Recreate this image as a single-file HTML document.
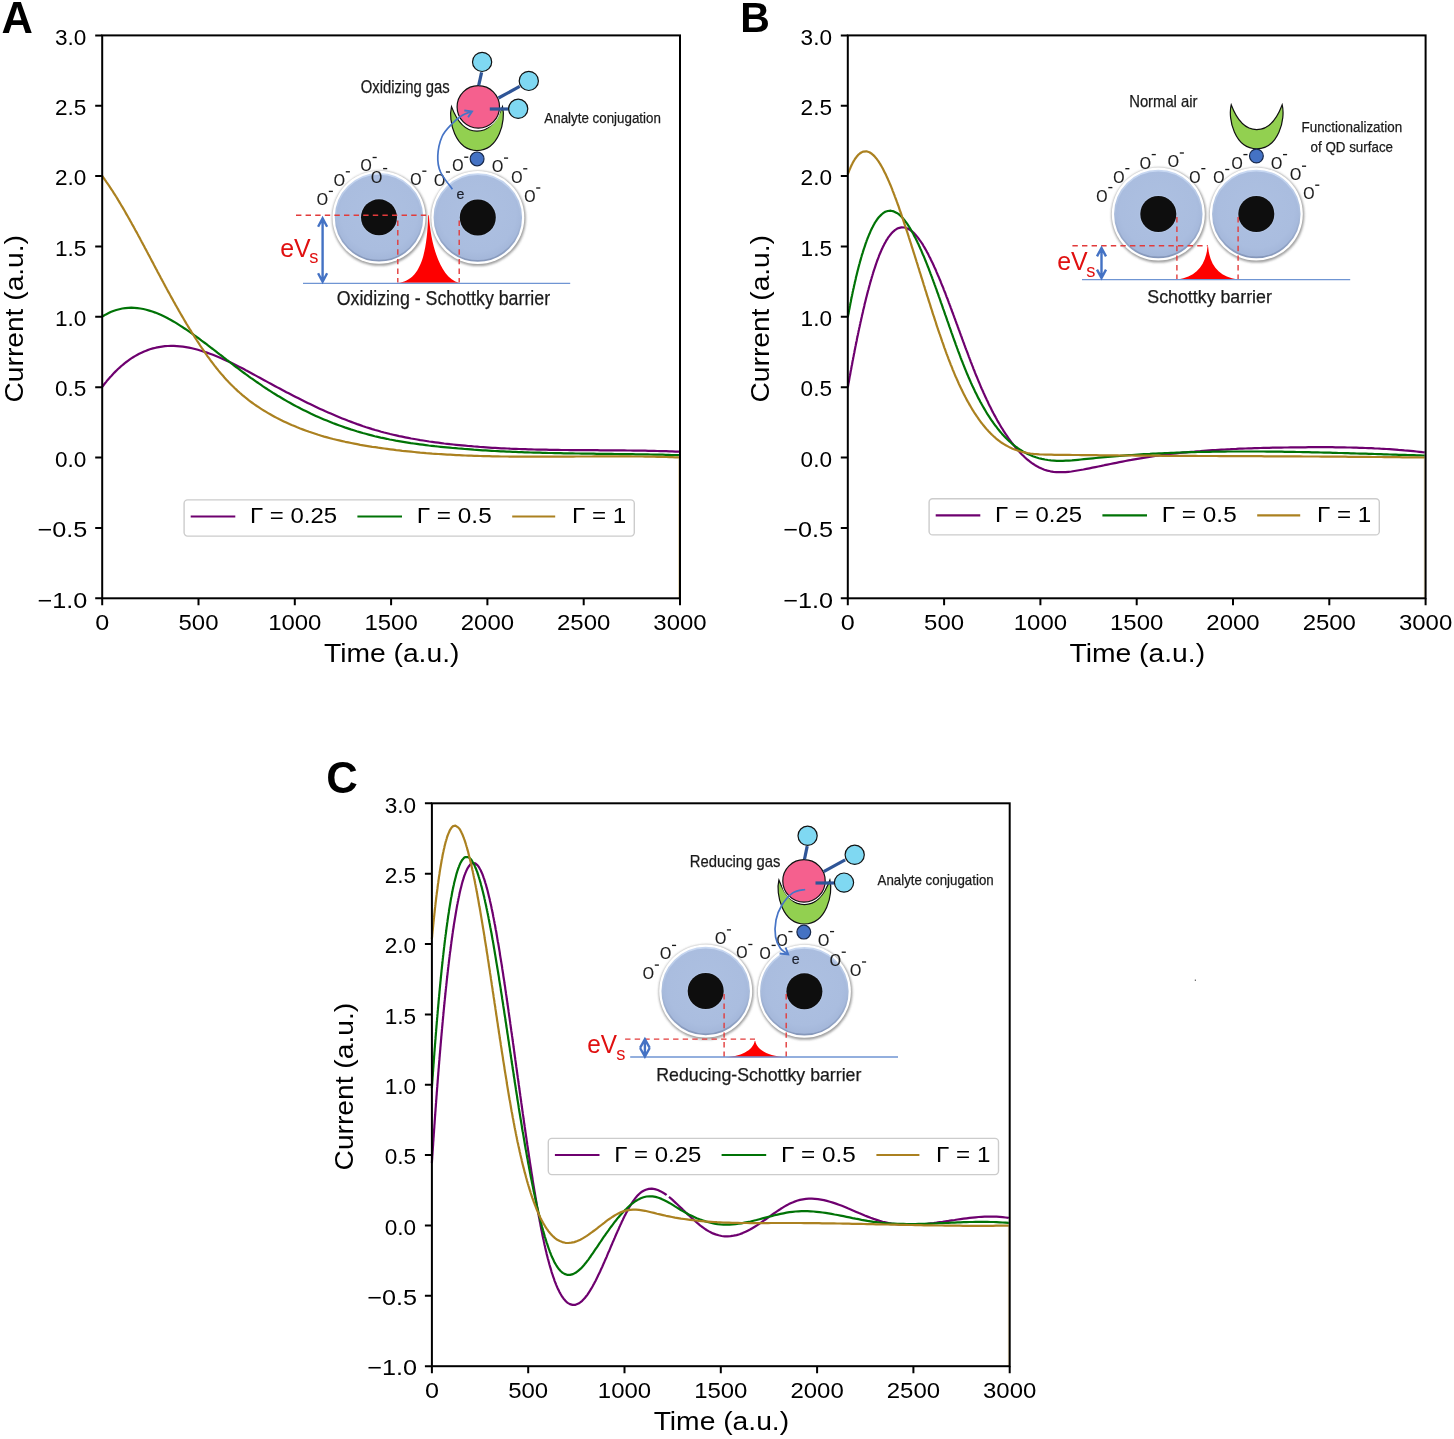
<!DOCTYPE html>
<html><head><meta charset="utf-8"><title>Current vs time</title><style>html,body{margin:0;padding:0;background:#fff;overflow:hidden}svg{display:block;will-change:transform}</style></head><body>
<svg width="1454" height="1439" viewBox="0 0 1454 1439" font-family='"Liberation Sans", sans-serif'>
<defs>
<filter id="sh" x="-20%" y="-20%" width="140%" height="140%"><feGaussianBlur stdDeviation="1.3"/></filter>
<radialGradient id="bg" cx="50%" cy="45%" r="55%"><stop offset="0" stop-color="#adc0e1"/><stop offset="0.8" stop-color="#aabddf"/><stop offset="1" stop-color="#a3b6d9"/></radialGradient>
<linearGradient id="rim" x1="0" y1="0" x2="0" y2="1"><stop offset="0" stop-color="#c8d8f2"/><stop offset="0.5" stop-color="#a9bcdc"/><stop offset="1" stop-color="#8597ba"/></linearGradient>
</defs>
<rect width="1454" height="1439" fill="#fff"/>
<circle cx="379.5" cy="218.3" r="47.5" fill="#606060" fill-opacity="0.6" filter="url(#sh)"/>
<circle cx="379" cy="217.3" r="46.5" fill="#fff"/>
<circle cx="379" cy="217.3" r="43.4" fill="url(#bg)" stroke="url(#rim)" stroke-width="1.7"/>
<circle cx="379" cy="217.3" r="19" fill="#b9cbe9" fill-opacity="0.6"/>
<circle cx="379" cy="217.3" r="18" fill="#0e0e0e"/>
<circle cx="478.3" cy="218.5" r="47.5" fill="#606060" fill-opacity="0.6" filter="url(#sh)"/>
<circle cx="477.8" cy="217.5" r="46.5" fill="#fff"/>
<circle cx="477.8" cy="217.5" r="43.4" fill="url(#bg)" stroke="url(#rim)" stroke-width="1.7"/>
<circle cx="477.8" cy="217.5" r="19" fill="#b9cbe9" fill-opacity="0.6"/>
<circle cx="477.8" cy="217.5" r="18" fill="#0e0e0e"/>
<path d="M296 215.3 H428.3 M397.8 220.5 V282.6 M459.2 220.5 V282.6" stroke="#e23b3b" stroke-width="1.4" stroke-dasharray="5.4 4.2" fill="none"/>
<path d="M397.8 282.8 C420 281 427 255 428.2 215.3 L428.8 215.3 C431 245 440 278 459.2 282.8 Z" fill="#fe0000"/>
<path d="M303 283.3 H570.2" stroke="#6f95d3" stroke-width="1.3"/>
<path d="M322.6 218.8 V281.2 M318.1 226.7 L322.6 218.3 L327.1 226.7 M318.1 273.3 L322.6 281.7 L327.1 273.3" stroke="#4472c4" stroke-width="2.4" fill="none" stroke-linejoin="miter"/>
<text x="280.2" y="256.8" font-size="25.5" fill="#e01010" textLength="30.5" lengthAdjust="spacingAndGlyphs">eV</text>
<text x="309.2" y="263.4" font-size="18.3" fill="#e01010">s</text>
<text x="316.8" y="205.3" font-size="16" fill="#1a1a1a" stroke="#1a1a1a" stroke-width="0.2" textLength="11.2" lengthAdjust="spacingAndGlyphs">O</text>
<path d="M328.8 191.4 h4.1" stroke="#1a1a1a" stroke-width="1.35"/>
<text x="333.8" y="185.7" font-size="16" fill="#1a1a1a" stroke="#1a1a1a" stroke-width="0.2" textLength="11.2" lengthAdjust="spacingAndGlyphs">O</text>
<path d="M345.8 171.8 h4.1" stroke="#1a1a1a" stroke-width="1.35"/>
<text x="360.6" y="171.4" font-size="16" fill="#1a1a1a" stroke="#1a1a1a" stroke-width="0.2" textLength="11.2" lengthAdjust="spacingAndGlyphs">O</text>
<path d="M372.6 157.5 h4.1" stroke="#1a1a1a" stroke-width="1.35"/>
<text x="371.1" y="182.5" font-size="16" fill="#1a1a1a" stroke="#1a1a1a" stroke-width="0.2" textLength="11.2" lengthAdjust="spacingAndGlyphs">O</text>
<path d="M383.1 168.6 h4.1" stroke="#1a1a1a" stroke-width="1.35"/>
<text x="410.3" y="185.1" font-size="16" fill="#1a1a1a" stroke="#1a1a1a" stroke-width="0.2" textLength="11.2" lengthAdjust="spacingAndGlyphs">O</text>
<path d="M422.3 171.2 h4.1" stroke="#1a1a1a" stroke-width="1.35"/>
<text x="433.9" y="185.9" font-size="16" fill="#1a1a1a" stroke="#1a1a1a" stroke-width="0.2" textLength="11.2" lengthAdjust="spacingAndGlyphs">O</text>
<path d="M445.9 172 h4.1" stroke="#1a1a1a" stroke-width="1.35"/>
<text x="452.2" y="171.1" font-size="16" fill="#1a1a1a" stroke="#1a1a1a" stroke-width="0.2" textLength="11.2" lengthAdjust="spacingAndGlyphs">O</text>
<path d="M464.2 157.2 h4.1" stroke="#1a1a1a" stroke-width="1.35"/>
<text x="492" y="172" font-size="16" fill="#1a1a1a" stroke="#1a1a1a" stroke-width="0.2" textLength="11.2" lengthAdjust="spacingAndGlyphs">O</text>
<path d="M504 158.1 h4.1" stroke="#1a1a1a" stroke-width="1.35"/>
<text x="511.2" y="182.7" font-size="16" fill="#1a1a1a" stroke="#1a1a1a" stroke-width="0.2" textLength="11.2" lengthAdjust="spacingAndGlyphs">O</text>
<path d="M523.2 168.8 h4.1" stroke="#1a1a1a" stroke-width="1.35"/>
<text x="524.2" y="201.9" font-size="16" fill="#1a1a1a" stroke="#1a1a1a" stroke-width="0.2" textLength="11.2" lengthAdjust="spacingAndGlyphs">O</text>
<path d="M536.2 188 h4.1" stroke="#1a1a1a" stroke-width="1.35"/>
<path d="M451.5 106.6 C448 120.6 455 150.6 477 150.6 C499 150.6 506 120.6 502.5 106.6 C496.5 122.6 488 131.2 477 131.2 C466 131.2 457.5 122.6 451.5 106.6 Z" fill="#92d050" stroke="#111" stroke-width="1.2" stroke-linejoin="miter"/>
<circle cx="478.3" cy="106.9" r="22.6" fill="#fff"/>
<circle cx="478.3" cy="106.9" r="21.2" fill="#f5608e" stroke="#111" stroke-width="1.2"/>
<path d="M481.6 72.4 L478.7 85.4" stroke="#2f5597" stroke-width="3.2"/>
<path d="M498.5 98 L519.7 86.4" stroke="#2f5597" stroke-width="3.2"/>
<path d="M489.8 109 L508.6 109" stroke="#2f5597" stroke-width="3.2"/>
<circle cx="482.1" cy="61.9" r="9.6" fill="#7fd8f2" stroke="#111" stroke-width="1.2"/>
<circle cx="528.8" cy="80.9" r="9.6" fill="#7fd8f2" stroke="#111" stroke-width="1.2"/>
<circle cx="518.2" cy="108.8" r="9.6" fill="#7fd8f2" stroke="#111" stroke-width="1.2"/>
<circle cx="477.1" cy="158.9" r="6.9" fill="#4472c4" stroke="#17284a" stroke-width="1.2"/>
<path d="M452.4 189.2 C450.42 186.33 442.93 177.58 440.5 172 C438.07 166.42 437.53 161.62 437.8 155.7 C438.07 149.78 439.77 141.78 442.1 136.5 C444.43 131.22 448.42 127.53 451.8 124 C455.18 120.47 459.12 117.38 462.4 115.3 C465.68 113.22 469.98 112.13 471.5 111.5" stroke="#4674c6" stroke-width="1.7" fill="none"/>
<path d="M464.3 110.5 L472 111.4 L468.1 117.2" stroke="#4674c6" stroke-width="1.9" fill="none"/>
<text x="456.6" y="199.3" font-size="14.2" fill="#1b1f2a" stroke="#1b1f2a" stroke-width="0.2">e</text>
<text x="336.7" y="304.5" font-size="19.8" fill="#1a1a1a" textLength="213.4" lengthAdjust="spacingAndGlyphs" stroke="#1a1a1a" stroke-width="0.25">Oxidizing - Schottky barrier</text>
<text x="360.7" y="93.2" font-size="17.5" fill="#1a1a1a" textLength="89.1" lengthAdjust="spacingAndGlyphs" stroke="#1a1a1a" stroke-width="0.25">Oxidizing gas</text>
<text x="544.3" y="123.4" font-size="15.2" fill="#1a1a1a" textLength="116.6" lengthAdjust="spacingAndGlyphs" stroke="#1a1a1a" stroke-width="0.25">Analyte conjugation</text>
<g>
<path d="M102.2 386.85 L103.1 385.7 104.0 384.5 105.0 383.3 106.0 382.1 106.9 380.9 107.9 379.7 109.0 378.5 110.0 377.3 111.1 376.2 112.2 375.0 113.3 373.8 114.4 372.6 115.6 371.4 116.8 370.2 118.0 369.0 119.3 367.9 120.6 366.7 122.0 365.5 123.4 364.3 124.8 363.1 126.3 362.0 127.9 360.8 129.5 359.6 131.3 358.4 133.1 357.3 135.0 356.1 137.0 355.0 139.2 353.8 141.5 352.7 144.1 351.5 146.9 350.4 149.9 349.3 152.9 348.4 155.9 347.7 158.9 347.1 161.9 346.6 164.9 346.2 167.9 346.0 170.9 345.9 173.9 345.9 176.9 346.1 179.9 346.3 182.9 346.7 185.9 347.1 188.9 347.6 191.9 348.3 194.9 349.0 197.9 349.8 200.9 350.7 203.9 351.6 206.9 352.6 209.9 353.7 212.9 354.8 215.9 356.0 218.9 357.2 221.7 358.4 224.4 359.7 227.1 360.9 229.7 362.1 232.2 363.3 234.7 364.5 237.1 365.7 239.5 366.9 241.8 368.1 244.2 369.3 246.4 370.6 248.7 371.8 251.0 373.0 253.2 374.2 255.4 375.4 257.6 376.6 259.8 377.8 262.0 379.0 264.2 380.2 266.4 381.4 268.6 382.6 270.8 383.8 273.0 385.0 275.2 386.2 277.4 387.4 279.7 388.6 281.9 389.8 284.2 391.0 286.4 392.2 288.7 393.3 291.0 394.5 293.3 395.7 295.7 396.9 298.0 398.1 300.4 399.3 302.8 400.5 305.2 401.7 307.6 402.9 310.1 404.1 312.6 405.3 315.1 406.5 317.6 407.7 320.2 408.9 322.8 410.1 325.4 411.3 328.1 412.4 330.8 413.6 333.6 414.8 336.4 416.0 339.3 417.2 342.2 418.4 345.2 419.6 348.2 420.8 351.2 421.9 354.2 423.0 357.2 424.1 360.2 425.1 363.2 426.2 366.2 427.2 369.2 428.1 372.2 429.1 375.2 430.0 378.2 430.8 381.2 431.7 384.2 432.5 387.2 433.2 390.2 434.0 393.2 434.7 396.2 435.4 399.2 436.1 402.2 436.7 405.2 437.3 408.2 437.9 411.2 438.5 414.2 439.0 417.2 439.5 420.2 440.1 423.2 440.5 426.2 441.0 429.2 441.5 432.2 441.9 435.2 442.3 438.2 442.7 441.2 443.1 444.2 443.5 447.2 443.8 450.2 444.2 453.2 444.5 456.2 444.8 459.2 445.1 462.2 445.4 465.2 445.7 468.2 446.0 471.2 446.2 474.2 446.5 477.2 446.7 480.2 447.0 483.2 447.2 486.2 447.4 489.2 447.6 492.2 447.8 495.2 447.9 498.2 448.1 501.2 448.3 504.2 448.4 507.2 448.5 510.2 448.7 513.2 448.8 516.2 448.9 519.2 449.0 522.2 449.1 525.2 449.2 528.2 449.3 531.2 449.4 534.2 449.5 537.2 449.6 540.2 449.6 543.2 449.7 546.2 449.7 549.2 449.8 552.2 449.8 555.2 449.9 558.2 449.9 561.2 450.0 564.2 450.0 567.2 450.0 570.2 450.1 573.2 450.1 576.2 450.1 579.2 450.1 582.2 450.2 585.2 450.2 588.2 450.2 591.2 450.2 594.2 450.2 597.2 450.2 600.2 450.3 603.2 450.3 606.2 450.3 609.2 450.3 612.2 450.3 615.2 450.4 618.2 450.4 621.2 450.4 624.2 450.4 627.2 450.5 630.2 450.5 633.2 450.6 636.2 450.6 639.2 450.6 642.2 450.7 645.2 450.7 648.2 450.8 651.2 450.9 654.2 450.9 657.2 451.0 660.2 451.1 663.2 451.2 666.2 451.2 669.2 451.3 672.2 451.4 675.2 451.6 678.2 451.7 679.0 451.7" fill="none" stroke="#6e006f" stroke-width="2.2" stroke-linejoin="round" stroke-linecap="butt" />
<path d="M102.2 316.7 L104.0 315.5 106.0 314.4 108.2 313.3 110.6 312.1 113.3 311.0 116.3 310.0 119.3 309.2 122.3 308.5 125.3 308.1 128.3 307.8 131.3 307.7 134.3 307.8 137.3 308.1 140.3 308.5 143.3 309.0 146.3 309.7 149.3 310.6 152.3 311.5 155.3 312.6 158.3 313.8 161.2 315.1 163.8 316.3 166.3 317.5 168.6 318.8 170.9 320.0 173.0 321.2 175.1 322.4 177.1 323.7 179.0 324.9 180.9 326.1 182.8 327.3 184.6 328.5 186.4 329.7 188.2 330.9 190.0 332.1 191.7 333.3 193.4 334.5 195.1 335.8 196.7 337.0 198.4 338.2 200.0 339.4 201.6 340.6 203.3 341.8 204.9 343.0 206.5 344.2 208.0 345.4 209.6 346.6 211.2 347.8 212.8 349.0 214.3 350.2 215.9 351.4 217.4 352.6 219.0 353.8 220.5 355.0 222.1 356.2 223.6 357.4 225.2 358.6 226.7 359.8 228.3 361.0 229.8 362.2 231.4 363.4 233.0 364.6 234.5 365.8 236.1 367.0 237.7 368.2 239.3 369.4 240.9 370.6 242.5 371.8 244.1 373.0 245.7 374.2 247.4 375.4 249.0 376.6 250.7 377.8 252.4 378.9 254.1 380.1 255.8 381.3 257.5 382.5 259.2 383.7 261.0 384.9 262.7 386.1 264.5 387.3 266.3 388.5 268.1 389.7 270.0 390.9 271.9 392.1 273.7 393.3 275.7 394.5 277.6 395.7 279.6 396.8 281.6 398.0 283.6 399.2 285.6 400.4 287.7 401.6 289.9 402.8 292.0 404.0 294.2 405.2 296.4 406.4 298.7 407.6 301.0 408.8 303.3 409.9 305.7 411.1 308.2 412.3 310.6 413.5 313.2 414.7 315.8 415.9 318.4 417.1 321.1 418.2 323.9 419.4 326.8 420.6 329.7 421.8 332.7 423.0 335.7 424.1 338.7 425.2 341.7 426.3 344.7 427.4 347.7 428.4 350.7 429.4 353.7 430.3 356.7 431.3 359.7 432.1 362.7 433.0 365.7 433.8 368.7 434.6 371.7 435.4 374.7 436.2 377.7 436.9 380.7 437.6 383.7 438.2 386.7 438.8 389.7 439.5 392.7 440.0 395.7 440.6 398.7 441.1 401.7 441.6 404.7 442.1 407.7 442.6 410.7 443.1 413.7 443.5 416.7 443.9 419.7 444.3 422.7 444.7 425.7 445.1 428.7 445.5 431.7 445.8 434.7 446.2 437.7 446.5 440.7 446.8 443.7 447.1 446.7 447.4 449.7 447.7 452.7 448.0 455.7 448.2 458.7 448.5 461.7 448.7 464.7 449.0 467.7 449.2 470.7 449.4 473.7 449.7 476.7 449.9 479.7 450.1 482.7 450.3 485.7 450.4 488.7 450.6 491.7 450.8 494.7 451.0 497.7 451.1 500.7 451.3 503.7 451.4 506.7 451.6 509.7 451.7 512.7 451.8 515.7 451.9 518.7 452.1 521.7 452.2 524.7 452.3 527.7 452.4 530.7 452.5 533.7 452.6 536.7 452.6 539.7 452.7 542.7 452.8 545.7 452.9 548.7 453.0 551.7 453.0 554.7 453.1 557.7 453.2 560.7 453.2 563.7 453.3 566.7 453.3 569.7 453.4 572.7 453.4 575.7 453.5 578.7 453.5 581.7 453.6 584.7 453.6 587.7 453.6 590.7 453.7 593.7 453.7 596.7 453.8 599.7 453.8 602.7 453.8 605.7 453.9 608.7 453.9 611.7 453.9 614.7 454.0 617.7 454.0 620.7 454.1 623.7 454.1 626.7 454.1 629.7 454.2 632.7 454.2 635.7 454.3 638.7 454.3 641.7 454.3 644.7 454.4 647.7 454.4 650.7 454.5 653.7 454.6 656.7 454.6 659.7 454.7 662.7 454.7 665.7 454.8 668.7 454.9 671.7 455.0 674.7 455.0 677.7 455.1 679.0 455.2" fill="none" stroke="#007306" stroke-width="2.2" stroke-linejoin="round" stroke-linecap="butt" />
<path d="M102.2 176.03 L103.1 177.2 104.0 178.4 104.8 179.7 105.7 180.9 106.5 182.1 107.4 183.3 108.2 184.5 109.0 185.7 109.8 186.9 110.6 188.1 111.4 189.3 112.2 190.5 113.0 191.7 113.7 192.9 114.5 194.1 115.3 195.3 116.0 196.5 116.8 197.7 117.5 198.9 118.2 200.1 119.0 201.4 119.7 202.6 120.4 203.8 121.1 205.0 121.8 206.2 122.6 207.4 123.3 208.6 124.0 209.8 124.7 211.0 125.4 212.2 126.0 213.4 126.7 214.6 127.4 215.8 128.1 217.0 128.8 218.2 129.5 219.4 130.1 220.6 130.8 221.8 131.5 223.0 132.1 224.2 132.8 225.4 133.5 226.6 134.1 227.8 134.8 229.0 135.4 230.2 136.1 231.4 136.8 232.6 137.4 233.8 138.1 235.0 138.7 236.2 139.4 237.4 140.0 238.6 140.6 239.8 141.3 241.0 141.9 242.2 142.6 243.4 143.2 244.6 143.9 245.8 144.5 247.0 145.1 248.2 145.8 249.4 146.4 250.6 147.0 251.8 147.7 253.0 148.3 254.2 149.0 255.4 149.6 256.6 150.2 257.8 150.9 259.0 151.5 260.2 152.1 261.4 152.8 262.6 153.4 263.8 154.0 265.0 154.7 266.2 155.3 267.4 155.9 268.6 156.6 269.8 157.2 271.0 157.8 272.2 158.5 273.4 159.1 274.6 159.8 275.8 160.4 277.0 161.0 278.2 161.7 279.4 162.3 280.6 163.0 281.8 163.6 283.0 164.3 284.2 164.9 285.4 165.5 286.6 166.2 287.8 166.8 289.0 167.5 290.2 168.1 291.4 168.8 292.6 169.5 293.8 170.1 295.0 170.8 296.2 171.4 297.4 172.1 298.6 172.8 299.8 173.4 301.0 174.1 302.2 174.8 303.4 175.4 304.6 176.1 305.8 176.8 307.0 177.5 308.2 178.2 309.4 178.8 310.6 179.5 311.8 180.2 313.0 180.9 314.2 181.6 315.4 182.3 316.6 183.0 317.8 183.7 319.0 184.4 320.2 185.1 321.4 185.8 322.6 186.5 323.8 187.3 325.0 188.0 326.2 188.7 327.4 189.4 328.6 190.2 329.7 190.9 330.9 191.6 332.1 192.4 333.3 193.1 334.5 193.9 335.7 194.6 336.9 195.4 338.1 196.2 339.3 196.9 340.5 197.7 341.7 198.5 342.9 199.3 344.1 200.0 345.3 200.8 346.5 201.6 347.7 202.5 348.9 203.3 350.1 204.1 351.3 204.9 352.5 205.7 353.7 206.6 354.9 207.4 356.1 208.3 357.3 209.2 358.4 210.0 359.6 210.9 360.8 211.8 362.0 212.7 363.2 213.6 364.4 214.5 365.6 215.5 366.8 216.4 368.0 217.4 369.2 218.3 370.4 219.3 371.6 220.3 372.8 221.3 373.9 222.3 375.1 223.4 376.3 224.4 377.5 225.5 378.7 226.6 379.9 227.7 381.1 228.8 382.3 230.0 383.5 231.2 384.7 232.3 385.8 233.6 387.0 234.8 388.2 236.1 389.4 237.3 390.6 238.7 391.8 240.0 393.0 241.4 394.2 242.7 395.4 244.2 396.5 245.6 397.7 247.1 398.9 248.6 400.1 250.2 401.3 251.8 402.5 253.4 403.7 255.1 404.8 256.8 406.0 258.6 407.2 260.4 408.4 262.3 409.6 264.2 410.8 266.1 411.9 268.1 413.1 270.2 414.3 272.3 415.5 274.5 416.7 276.7 417.9 279.0 419.1 281.4 420.2 283.8 421.4 286.3 422.6 288.9 423.8 291.6 425.0 294.4 426.1 297.2 427.3 300.2 428.5 303.2 429.6 306.2 430.7 309.2 431.8 312.2 432.8 315.2 433.8 318.2 434.8 321.2 435.7 324.2 436.6 327.2 437.4 330.2 438.2 333.2 439.0 336.2 439.7 339.2 440.4 342.2 441.1 345.2 441.8 348.2 442.4 351.2 443.0 354.2 443.6 357.2 444.2 360.2 444.8 363.2 445.3 366.2 445.8 369.2 446.3 372.2 446.8 375.2 447.2 378.2 447.7 381.2 448.1 384.2 448.5 387.2 448.9 390.2 449.3 393.2 449.7 396.2 450.1 399.2 450.4 402.2 450.8 405.2 451.1 408.2 451.4 411.2 451.7 414.2 452.0 417.2 452.3 420.2 452.6 423.2 452.8 426.2 453.1 429.2 453.3 432.2 453.6 435.2 453.8 438.2 454.0 441.2 454.2 444.2 454.4 447.2 454.6 450.2 454.7 453.2 454.9 456.2 455.1 459.2 455.2 462.2 455.3 465.2 455.5 468.2 455.6 471.2 455.7 474.2 455.8 477.2 455.9 480.2 456.0 483.2 456.1 486.2 456.2 489.2 456.2 492.2 456.3 495.2 456.4 498.2 456.4 501.2 456.5 504.2 456.5 507.2 456.5 510.2 456.6 513.2 456.6 516.2 456.6 519.2 456.7 522.2 456.7 525.2 456.7 528.2 456.7 531.2 456.7 534.2 456.7 537.2 456.7 540.2 456.7 543.2 456.7 546.2 456.7 549.2 456.7 552.2 456.7 555.2 456.7 558.2 456.6 561.2 456.6 564.2 456.6 567.2 456.6 570.2 456.6 573.2 456.6 576.2 456.5 579.2 456.5 582.2 456.5 585.2 456.5 588.2 456.5 591.2 456.5 594.2 456.4 597.2 456.4 600.2 456.4 603.2 456.4 606.2 456.4 609.2 456.4 612.2 456.4 615.2 456.4 618.2 456.4 621.2 456.4 624.2 456.4 627.2 456.4 630.2 456.4 633.2 456.5 636.2 456.5 639.2 456.5 642.2 456.5 645.2 456.6 648.2 456.6 651.2 456.7 654.2 456.7 657.2 456.8 660.2 456.8 663.2 456.9 666.2 457.0 669.2 457.1 672.2 457.2 675.2 457.3 678.2 457.4 679.0 457.4" fill="none" stroke="#ab8120" stroke-width="2.2" stroke-linejoin="round" stroke-linecap="butt" />
</g>
<path d="M678.7 458.3 V598.3" stroke="#ab8120" stroke-width="1" stroke-opacity="0.35"/>
<rect x="184.1" y="499.9" width="450.2" height="36.2" rx="3.5" fill="#fff" fill-opacity="0.8" stroke="#cccccc" stroke-width="1.4"/>
<path d="M190.7 516.5 H235.3" stroke="#6e006f" stroke-width="2.2"/>
<path d="M357.4 516.5 H402" stroke="#007306" stroke-width="2.2"/>
<path d="M512.2 516.5 H555.2" stroke="#ab8120" stroke-width="2.2"/>
<text x="250" y="523.1" font-size="21.2" textLength="87.1" lengthAdjust="spacingAndGlyphs">Γ = 0.25</text>
<text x="416.7" y="523.1" font-size="21.2" textLength="75" lengthAdjust="spacingAndGlyphs">Γ = 0.5</text>
<text x="571.9" y="523.1" font-size="21.2" textLength="54.3" lengthAdjust="spacingAndGlyphs">Γ = 1</text>
<rect x="102.2" y="35.4" width="577.8" height="562.9" fill="none" stroke="#000" stroke-width="2"/>
<path d="M102.2 598.3 V605.3 M198.5 598.3 V605.3 M294.8 598.3 V605.3 M391.1 598.3 V605.3 M487.4 598.3 V605.3 M583.7 598.3 V605.3 M680 598.3 V605.3 M95.2 35.4 H102.2 M95.2 105.76 H102.2 M95.2 176.12 H102.2 M95.2 246.49 H102.2 M95.2 316.85 H102.2 M95.2 387.21 H102.2 M95.2 457.57 H102.2 M95.2 527.94 H102.2 M95.2 598.3 H102.2" stroke="#000" stroke-width="2" fill="none"/>
<text x="86.4" y="44.6" font-size="22.3" text-anchor="end" textLength="31.4" lengthAdjust="spacingAndGlyphs">3.0</text>
<text x="86.4" y="114.96" font-size="22.3" text-anchor="end" textLength="31.4" lengthAdjust="spacingAndGlyphs">2.5</text>
<text x="86.4" y="185.32" font-size="22.3" text-anchor="end" textLength="31.4" lengthAdjust="spacingAndGlyphs">2.0</text>
<text x="86.4" y="255.69" font-size="22.3" text-anchor="end" textLength="31.4" lengthAdjust="spacingAndGlyphs">1.5</text>
<text x="86.4" y="326.05" font-size="22.3" text-anchor="end" textLength="31.4" lengthAdjust="spacingAndGlyphs">1.0</text>
<text x="86.4" y="396.41" font-size="22.3" text-anchor="end" textLength="31.4" lengthAdjust="spacingAndGlyphs">0.5</text>
<text x="86.4" y="466.77" font-size="22.3" text-anchor="end" textLength="31.4" lengthAdjust="spacingAndGlyphs">0.0</text>
<text x="87.4" y="537.14" font-size="22.3" text-anchor="end" textLength="49.8" lengthAdjust="spacingAndGlyphs">−0.5</text>
<text x="87.4" y="607.5" font-size="22.3" text-anchor="end" textLength="49.8" lengthAdjust="spacingAndGlyphs">−1.0</text>
<text x="102.2" y="629.8" font-size="22.3" text-anchor="middle" textLength="14" lengthAdjust="spacingAndGlyphs">0</text>
<text x="198.5" y="629.8" font-size="22.3" text-anchor="middle" textLength="40" lengthAdjust="spacingAndGlyphs">500</text>
<text x="294.8" y="629.8" font-size="22.3" text-anchor="middle" textLength="53.3" lengthAdjust="spacingAndGlyphs">1000</text>
<text x="391.1" y="629.8" font-size="22.3" text-anchor="middle" textLength="53.3" lengthAdjust="spacingAndGlyphs">1500</text>
<text x="487.4" y="629.8" font-size="22.3" text-anchor="middle" textLength="53.3" lengthAdjust="spacingAndGlyphs">2000</text>
<text x="583.7" y="629.8" font-size="22.3" text-anchor="middle" textLength="53.3" lengthAdjust="spacingAndGlyphs">2500</text>
<text x="680" y="629.8" font-size="22.3" text-anchor="middle" textLength="53.3" lengthAdjust="spacingAndGlyphs">3000</text>
<text x="391.7" y="662.2" font-size="26.6" text-anchor="middle" textLength="135.5" lengthAdjust="spacingAndGlyphs">Time (a.u.)</text>
<text x="0" y="0" font-size="26" text-anchor="middle" textLength="167.5" lengthAdjust="spacingAndGlyphs" transform="translate(23 318.75) rotate(-90)">Current (a.u.)</text>
<circle cx="1158.8" cy="215" r="47.5" fill="#606060" fill-opacity="0.6" filter="url(#sh)"/>
<circle cx="1158.3" cy="214" r="46.5" fill="#fff"/>
<circle cx="1158.3" cy="214" r="43.4" fill="url(#bg)" stroke="url(#rim)" stroke-width="1.7"/>
<circle cx="1158.3" cy="214" r="19" fill="#b9cbe9" fill-opacity="0.6"/>
<circle cx="1158.3" cy="214" r="18" fill="#0e0e0e"/>
<circle cx="1256.8" cy="215" r="47.5" fill="#606060" fill-opacity="0.6" filter="url(#sh)"/>
<circle cx="1256.3" cy="214" r="46.5" fill="#fff"/>
<circle cx="1256.3" cy="214" r="43.4" fill="url(#bg)" stroke="url(#rim)" stroke-width="1.7"/>
<circle cx="1256.3" cy="214" r="19" fill="#b9cbe9" fill-opacity="0.6"/>
<circle cx="1256.3" cy="214" r="18" fill="#0e0e0e"/>
<path d="M1072.4 245.8 H1207.8 M1176.9 217 V279.3 M1238.1 217 V279.3" stroke="#e23b3b" stroke-width="1.4" stroke-dasharray="5.4 4.2" fill="none"/>
<path d="M1177.9 279.5 C1196 277 1206 265 1207.5 246.5 L1208.1 246.5 C1209.5 265 1219 277 1237.6 279.5 Z" fill="#fe0000"/>
<path d="M1082 279.7 H1350.2" stroke="#6f95d3" stroke-width="1.3"/>
<path d="M1101.5 248.5 V277.5 M1097 256.4 L1101.5 248 L1106 256.4 M1097 269.6 L1101.5 278 L1106 269.6" stroke="#4472c4" stroke-width="2.4" fill="none" stroke-linejoin="miter"/>
<text x="1057.2" y="269.9" font-size="25.5" fill="#e01010" textLength="30.5" lengthAdjust="spacingAndGlyphs">eV</text>
<text x="1086.3" y="276.5" font-size="18.3" fill="#e01010">s</text>
<text x="1096.3" y="201.5" font-size="16" fill="#1a1a1a" stroke="#1a1a1a" stroke-width="0.2" textLength="11.2" lengthAdjust="spacingAndGlyphs">O</text>
<path d="M1108.3 187.6 h4.1" stroke="#1a1a1a" stroke-width="1.35"/>
<text x="1113.3" y="182.6" font-size="16" fill="#1a1a1a" stroke="#1a1a1a" stroke-width="0.2" textLength="11.2" lengthAdjust="spacingAndGlyphs">O</text>
<path d="M1125.3 168.7 h4.1" stroke="#1a1a1a" stroke-width="1.35"/>
<text x="1139.7" y="168.5" font-size="16" fill="#1a1a1a" stroke="#1a1a1a" stroke-width="0.2" textLength="11.2" lengthAdjust="spacingAndGlyphs">O</text>
<path d="M1151.7 154.6 h4.1" stroke="#1a1a1a" stroke-width="1.35"/>
<text x="1167.8" y="166.9" font-size="16" fill="#1a1a1a" stroke="#1a1a1a" stroke-width="0.2" textLength="11.2" lengthAdjust="spacingAndGlyphs">O</text>
<path d="M1179.8 153 h4.1" stroke="#1a1a1a" stroke-width="1.35"/>
<text x="1189.3" y="182.6" font-size="16" fill="#1a1a1a" stroke="#1a1a1a" stroke-width="0.2" textLength="11.2" lengthAdjust="spacingAndGlyphs">O</text>
<path d="M1201.3 168.7 h4.1" stroke="#1a1a1a" stroke-width="1.35"/>
<text x="1213.2" y="183.4" font-size="16" fill="#1a1a1a" stroke="#1a1a1a" stroke-width="0.2" textLength="11.2" lengthAdjust="spacingAndGlyphs">O</text>
<path d="M1225.2 169.5 h4.1" stroke="#1a1a1a" stroke-width="1.35"/>
<text x="1231.4" y="168.5" font-size="16" fill="#1a1a1a" stroke="#1a1a1a" stroke-width="0.2" textLength="11.2" lengthAdjust="spacingAndGlyphs">O</text>
<path d="M1243.4 154.6 h4.1" stroke="#1a1a1a" stroke-width="1.35"/>
<text x="1271" y="168.5" font-size="16" fill="#1a1a1a" stroke="#1a1a1a" stroke-width="0.2" textLength="11.2" lengthAdjust="spacingAndGlyphs">O</text>
<path d="M1283 154.6 h4.1" stroke="#1a1a1a" stroke-width="1.35"/>
<text x="1290" y="180.1" font-size="16" fill="#1a1a1a" stroke="#1a1a1a" stroke-width="0.2" textLength="11.2" lengthAdjust="spacingAndGlyphs">O</text>
<path d="M1302 166.2 h4.1" stroke="#1a1a1a" stroke-width="1.35"/>
<text x="1303.2" y="199.1" font-size="16" fill="#1a1a1a" stroke="#1a1a1a" stroke-width="0.2" textLength="11.2" lengthAdjust="spacingAndGlyphs">O</text>
<path d="M1315.2 185.2 h4.1" stroke="#1a1a1a" stroke-width="1.35"/>
<path d="M1231.2 104.8 C1227.7 118.8 1234.7 148.8 1256.7 148.8 C1278.7 148.8 1285.7 118.8 1282.2 104.8 C1276.2 120.8 1267.7 129.6 1256.7 129.6 C1245.7 129.6 1237.2 120.8 1231.2 104.8 Z" fill="#92d050" stroke="#111" stroke-width="1.2" stroke-linejoin="miter"/>
<circle cx="1256.4" cy="156" r="6.9" fill="#4472c4" stroke="#17284a" stroke-width="1.2"/>
<text x="1147.3" y="303.4" font-size="18" fill="#1a1a1a" textLength="124.6" lengthAdjust="spacingAndGlyphs" stroke="#1a1a1a" stroke-width="0.25">Schottky barrier</text>
<text x="1129.2" y="106.5" font-size="16.2" fill="#1a1a1a" textLength="68.3" lengthAdjust="spacingAndGlyphs" stroke="#1a1a1a" stroke-width="0.25">Normal air</text>
<text x="1301.5" y="132.3" font-size="14.7" fill="#1a1a1a" textLength="100.7" lengthAdjust="spacingAndGlyphs" stroke="#1a1a1a" stroke-width="0.25">Functionalization</text>
<text x="1310.6" y="151.9" font-size="14.7" fill="#1a1a1a" textLength="82.4" lengthAdjust="spacingAndGlyphs" stroke="#1a1a1a" stroke-width="0.25">of QD surface</text>
<g>
<path d="M847.8 387.43 L848.0 386.2 848.2 385.0 848.4 383.8 848.7 382.6 848.9 381.4 849.1 380.2 849.3 379.0 849.5 377.8 849.7 376.6 850.0 375.4 850.2 374.2 850.4 373.0 850.6 371.8 850.8 370.7 851.1 369.5 851.3 368.3 851.5 367.1 851.7 365.9 852.0 364.7 852.2 363.5 852.4 362.3 852.6 361.1 852.9 359.9 853.1 358.7 853.3 357.5 853.6 356.3 853.8 355.1 854.0 353.9 854.3 352.7 854.5 351.5 854.7 350.3 855.0 349.1 855.2 347.9 855.4 346.7 855.7 345.5 855.9 344.3 856.2 343.1 856.4 341.9 856.7 340.7 856.9 339.5 857.1 338.3 857.4 337.1 857.6 335.9 857.9 334.7 858.1 333.5 858.4 332.3 858.6 331.1 858.9 329.9 859.1 328.7 859.4 327.5 859.7 326.3 859.9 325.1 860.2 323.9 860.4 322.8 860.7 321.6 861.0 320.4 861.2 319.2 861.5 318.0 861.8 316.8 862.0 315.6 862.3 314.4 862.6 313.2 862.9 312.0 863.1 310.8 863.4 309.6 863.7 308.4 864.0 307.2 864.3 306.0 864.5 304.8 864.8 303.6 865.1 302.4 865.4 301.2 865.7 300.0 866.0 298.8 866.3 297.6 866.6 296.4 866.9 295.2 867.2 294.0 867.5 292.9 867.8 291.7 868.1 290.5 868.5 289.3 868.8 288.1 869.1 286.9 869.4 285.7 869.8 284.5 870.1 283.3 870.4 282.1 870.8 280.9 871.1 279.7 871.5 278.5 871.8 277.3 872.2 276.1 872.5 274.9 872.9 273.8 873.2 272.6 873.6 271.4 874.0 270.2 874.4 269.0 874.8 267.8 875.2 266.6 875.6 265.4 876.0 264.2 876.4 263.0 876.8 261.8 877.2 260.7 877.7 259.5 878.1 258.3 878.6 257.1 879.0 255.9 879.5 254.7 880.0 253.5 880.5 252.3 881.0 251.2 881.5 250.0 882.1 248.8 882.6 247.6 883.2 246.4 883.8 245.3 884.4 244.1 885.0 242.9 885.7 241.7 886.3 240.5 887.1 239.4 887.8 238.2 888.6 237.0 889.5 235.9 890.4 234.7 891.3 233.6 892.4 232.4 893.6 231.3 894.9 230.2 896.5 229.1 898.5 228.1 901.5 227.4 904.5 227.5 907.5 228.5 910.2 230.0 912.0 231.3 913.4 232.6 914.7 233.9 915.8 235.1 916.9 236.4 917.9 237.6 918.8 238.8 919.7 240.1 920.6 241.3 921.4 242.5 922.2 243.7 923.0 244.9 923.7 246.2 924.4 247.4 925.1 248.6 925.8 249.8 926.5 251.0 927.1 252.2 927.8 253.4 928.4 254.6 929.0 255.9 929.6 257.1 930.3 258.3 930.8 259.5 931.4 260.7 932.0 261.9 932.6 263.1 933.1 264.3 933.7 265.5 934.2 266.7 934.8 267.9 935.3 269.1 935.9 270.3 936.4 271.6 936.9 272.8 937.4 274.0 937.9 275.2 938.5 276.4 939.0 277.6 939.5 278.8 940.0 280.0 940.5 281.2 940.9 282.4 941.4 283.6 941.9 284.8 942.4 286.0 942.9 287.2 943.4 288.4 943.8 289.6 944.3 290.8 944.8 292.0 945.3 293.2 945.7 294.4 946.2 295.6 946.6 296.8 947.1 298.0 947.6 299.2 948.0 300.4 948.5 301.6 948.9 302.8 949.4 304.0 949.8 305.2 950.3 306.4 950.7 307.6 951.2 308.8 951.6 310.0 952.1 311.3 952.5 312.5 953.0 313.7 953.4 314.9 953.9 316.1 954.3 317.3 954.8 318.5 955.2 319.7 955.6 320.9 956.1 322.1 956.5 323.3 957.0 324.5 957.4 325.7 957.8 326.9 958.3 328.1 958.7 329.3 959.2 330.5 959.6 331.7 960.0 332.9 960.5 334.1 960.9 335.3 961.4 336.5 961.8 337.7 962.2 338.9 962.7 340.1 963.1 341.3 963.6 342.5 964.0 343.7 964.4 344.9 964.9 346.1 965.3 347.3 965.8 348.5 966.2 349.6 966.7 350.8 967.1 352.0 967.6 353.2 968.0 354.4 968.5 355.6 968.9 356.8 969.4 358.0 969.8 359.2 970.3 360.4 970.7 361.6 971.2 362.8 971.7 364.0 972.1 365.2 972.6 366.4 973.1 367.6 973.5 368.8 974.0 370.0 974.5 371.2 974.9 372.4 975.4 373.6 975.9 374.8 976.4 376.0 976.9 377.2 977.4 378.4 977.9 379.6 978.4 380.8 978.9 382.0 979.4 383.2 979.9 384.4 980.4 385.6 980.9 386.8 981.4 388.0 981.9 389.2 982.5 390.3 983.0 391.5 983.5 392.7 984.1 393.9 984.6 395.1 985.1 396.3 985.7 397.5 986.3 398.7 986.8 399.9 987.4 401.1 988.0 402.3 988.5 403.5 989.1 404.7 989.7 405.9 990.3 407.1 990.9 408.3 991.5 409.5 992.1 410.7 992.7 411.9 993.3 413.0 994.0 414.2 994.6 415.4 995.3 416.6 995.9 417.8 996.6 419.0 997.2 420.2 997.9 421.4 998.6 422.6 999.3 423.8 1000.0 425.0 1000.7 426.2 1001.4 427.4 1002.1 428.5 1002.9 429.7 1003.6 430.9 1004.4 432.1 1005.2 433.3 1006.0 434.5 1006.8 435.7 1007.6 436.9 1008.4 438.1 1009.2 439.3 1010.1 440.4 1011.0 441.6 1011.9 442.8 1012.8 444.0 1013.7 445.2 1014.7 446.4 1015.6 447.6 1016.6 448.8 1017.7 449.9 1018.7 451.1 1019.8 452.3 1020.9 453.5 1022.1 454.7 1023.3 455.8 1024.5 457.0 1025.8 458.2 1027.1 459.4 1028.6 460.5 1030.0 461.7 1031.6 462.9 1033.3 464.0 1035.1 465.2 1037.0 466.3 1039.2 467.5 1041.6 468.6 1044.4 469.7 1047.4 470.6 1050.4 471.3 1053.4 471.8 1056.4 472.1 1059.4 472.2 1062.4 472.2 1065.4 472.1 1068.4 471.8 1071.4 471.5 1074.4 471.0 1077.4 470.5 1080.4 470.0 1083.4 469.5 1086.4 468.9 1089.4 468.3 1092.4 467.7 1095.4 467.1 1098.4 466.5 1101.4 465.9 1104.4 465.2 1107.4 464.6 1110.4 464.0 1113.4 463.4 1116.4 462.8 1119.4 462.2 1122.4 461.6 1125.4 461.0 1128.4 460.4 1131.4 459.9 1134.4 459.3 1137.4 458.8 1140.4 458.3 1143.4 457.8 1146.4 457.3 1149.4 456.9 1152.4 456.4 1155.4 456.0 1158.4 455.6 1161.4 455.2 1164.4 454.8 1167.4 454.4 1170.4 454.0 1173.4 453.7 1176.4 453.3 1179.4 453.0 1182.4 452.7 1185.4 452.4 1188.4 452.1 1191.4 451.8 1194.4 451.6 1197.4 451.3 1200.4 451.1 1203.4 450.8 1206.4 450.6 1209.4 450.4 1212.4 450.2 1215.4 450.0 1218.4 449.8 1221.4 449.6 1224.4 449.5 1227.4 449.3 1230.4 449.2 1233.4 449.0 1236.4 448.9 1239.4 448.7 1242.4 448.6 1245.4 448.5 1248.4 448.4 1251.4 448.3 1254.4 448.2 1257.4 448.1 1260.4 448.0 1263.4 447.9 1266.4 447.9 1269.4 447.8 1272.4 447.7 1275.4 447.7 1278.4 447.6 1281.4 447.6 1284.4 447.5 1287.4 447.5 1290.4 447.4 1293.4 447.4 1296.4 447.3 1299.4 447.3 1302.4 447.3 1305.4 447.3 1308.4 447.2 1311.4 447.2 1314.4 447.2 1317.4 447.2 1320.4 447.2 1323.4 447.2 1326.4 447.2 1329.4 447.2 1332.4 447.2 1335.4 447.3 1338.4 447.3 1341.4 447.3 1344.4 447.4 1347.4 447.5 1350.4 447.5 1353.4 447.6 1356.4 447.7 1359.4 447.8 1362.4 447.9 1365.4 448.0 1368.4 448.1 1371.4 448.2 1374.4 448.4 1377.4 448.5 1380.4 448.7 1383.4 448.8 1386.4 449.0 1389.4 449.2 1392.4 449.4 1395.4 449.6 1398.4 449.9 1401.4 450.1 1404.4 450.4 1407.4 450.6 1410.4 450.9 1413.4 451.2 1416.4 451.5 1419.4 451.8 1422.4 452.2 1424.7 452.4" fill="none" stroke="#6e006f" stroke-width="2.2" stroke-linejoin="round" stroke-linecap="butt" />
<path d="M847.8 317.25 L848.0 316.0 848.2 314.9 848.5 313.7 848.7 312.5 848.9 311.3 849.1 310.1 849.4 308.9 849.6 307.7 849.8 306.5 850.1 305.3 850.3 304.1 850.5 302.9 850.8 301.7 851.0 300.5 851.2 299.3 851.5 298.1 851.7 296.9 852.0 295.7 852.2 294.5 852.5 293.3 852.7 292.1 853.0 290.9 853.2 289.7 853.5 288.6 853.8 287.4 854.0 286.2 854.3 285.0 854.6 283.8 854.8 282.6 855.1 281.4 855.4 280.2 855.7 279.0 855.9 277.8 856.2 276.6 856.5 275.4 856.8 274.2 857.1 273.0 857.4 271.8 857.7 270.6 858.0 269.4 858.3 268.3 858.6 267.1 858.9 265.9 859.2 264.7 859.6 263.5 859.9 262.3 860.2 261.1 860.6 259.9 860.9 258.7 861.2 257.5 861.6 256.3 861.9 255.1 862.3 253.9 862.7 252.8 863.0 251.6 863.4 250.4 863.8 249.2 864.2 248.0 864.6 246.8 865.0 245.6 865.4 244.4 865.8 243.2 866.2 242.1 866.6 240.9 867.1 239.7 867.5 238.5 868.0 237.3 868.5 236.1 869.0 234.9 869.5 233.8 870.0 232.6 870.5 231.4 871.0 230.2 871.6 229.0 872.2 227.8 872.8 226.7 873.4 225.5 874.1 224.3 874.7 223.1 875.4 222.0 876.2 220.8 877.0 219.6 877.8 218.5 878.8 217.3 879.8 216.2 880.9 215.1 882.1 214.0 883.5 212.9 885.3 211.8 887.8 211.0 890.8 210.7 893.8 211.4 896.8 212.9 898.7 214.2 900.2 215.5 901.5 216.8 902.7 218.0 903.7 219.3 904.7 220.5 905.7 221.8 906.6 223.0 907.4 224.2 908.2 225.4 909.0 226.7 909.8 227.9 910.5 229.1 911.2 230.3 911.9 231.5 912.6 232.7 913.3 233.9 913.9 235.2 914.5 236.4 915.2 237.6 915.8 238.8 916.4 240.0 917.0 241.2 917.5 242.4 918.1 243.6 918.7 244.8 919.2 246.0 919.8 247.3 920.3 248.5 920.9 249.7 921.4 250.9 921.9 252.1 922.4 253.3 922.9 254.5 923.5 255.7 924.0 256.9 924.5 258.1 925.0 259.3 925.4 260.5 925.9 261.7 926.4 262.9 926.9 264.1 927.4 265.3 927.8 266.5 928.3 267.7 928.8 268.9 929.2 270.2 929.7 271.4 930.2 272.6 930.6 273.8 931.1 275.0 931.5 276.2 932.0 277.4 932.4 278.6 932.9 279.8 933.3 281.0 933.7 282.2 934.2 283.4 934.6 284.6 935.1 285.8 935.5 287.0 935.9 288.2 936.4 289.4 936.8 290.6 937.2 291.8 937.6 293.0 938.1 294.2 938.5 295.4 938.9 296.6 939.4 297.8 939.8 299.0 940.2 300.2 940.6 301.4 941.0 302.6 941.5 303.8 941.9 305.0 942.3 306.2 942.7 307.4 943.1 308.6 943.6 309.8 944.0 311.0 944.4 312.2 944.8 313.4 945.2 314.6 945.7 315.8 946.1 317.0 946.5 318.2 946.9 319.4 947.3 320.6 947.8 321.8 948.2 323.0 948.6 324.2 949.0 325.4 949.4 326.6 949.9 327.8 950.3 329.0 950.7 330.2 951.1 331.4 951.5 332.6 952.0 333.8 952.4 335.0 952.8 336.2 953.2 337.4 953.7 338.6 954.1 339.8 954.5 341.0 955.0 342.2 955.4 343.4 955.8 344.6 956.3 345.8 956.7 347.0 957.1 348.2 957.6 349.4 958.0 350.6 958.5 351.8 958.9 353.0 959.4 354.2 959.8 355.4 960.3 356.6 960.7 357.8 961.2 359.0 961.6 360.2 962.1 361.3 962.6 362.5 963.0 363.7 963.5 364.9 964.0 366.1 964.5 367.3 964.9 368.5 965.4 369.7 965.9 370.9 966.4 372.1 966.9 373.3 967.4 374.5 967.9 375.7 968.4 376.9 968.9 378.1 969.5 379.3 970.0 380.5 970.5 381.7 971.0 382.9 971.6 384.1 972.1 385.2 972.7 386.4 973.2 387.6 973.8 388.8 974.4 390.0 974.9 391.2 975.5 392.4 976.1 393.6 976.7 394.8 977.3 396.0 977.9 397.2 978.5 398.4 979.2 399.6 979.8 400.8 980.4 402.0 981.1 403.1 981.7 404.3 982.4 405.5 983.1 406.7 983.8 407.9 984.5 409.1 985.2 410.3 985.9 411.5 986.6 412.7 987.3 413.9 988.1 415.1 988.8 416.2 989.6 417.4 990.4 418.6 991.2 419.8 992.0 421.0 992.9 422.2 993.7 423.4 994.6 424.6 995.5 425.8 996.4 426.9 997.3 428.1 998.2 429.3 999.2 430.5 1000.2 431.7 1001.2 432.9 1002.2 434.1 1003.3 435.2 1004.4 436.4 1005.5 437.6 1006.7 438.8 1007.9 440.0 1009.2 441.1 1010.5 442.3 1011.8 443.5 1013.2 444.7 1014.7 445.8 1016.2 447.0 1017.9 448.2 1019.6 449.3 1021.4 450.5 1023.3 451.7 1025.4 452.8 1027.7 454.0 1030.2 455.1 1032.9 456.2 1035.9 457.3 1038.9 458.2 1041.9 458.9 1044.9 459.5 1047.9 460.0 1050.9 460.4 1053.9 460.6 1056.9 460.8 1059.9 460.8 1062.9 460.8 1065.9 460.7 1068.9 460.6 1071.9 460.4 1074.9 460.1 1077.9 459.8 1080.9 459.5 1083.9 459.2 1086.9 458.9 1089.9 458.6 1092.9 458.3 1095.9 458.0 1098.9 457.7 1101.9 457.4 1104.9 457.1 1107.9 456.9 1110.9 456.6 1113.9 456.3 1116.9 456.1 1119.9 455.9 1122.9 455.6 1125.9 455.4 1128.9 455.2 1131.9 455.0 1134.9 454.8 1137.9 454.6 1140.9 454.4 1143.9 454.2 1146.9 454.0 1149.9 453.9 1152.9 453.7 1155.9 453.6 1158.9 453.4 1161.9 453.3 1164.9 453.1 1167.9 453.0 1170.9 452.9 1173.9 452.8 1176.9 452.6 1179.9 452.5 1182.9 452.4 1185.9 452.3 1188.9 452.2 1191.9 452.2 1194.9 452.1 1197.9 452.0 1200.9 451.9 1203.9 451.9 1206.9 451.8 1209.9 451.8 1212.9 451.7 1215.9 451.7 1218.9 451.6 1221.9 451.6 1224.9 451.6 1227.9 451.5 1230.9 451.5 1233.9 451.5 1236.9 451.5 1239.9 451.5 1242.9 451.5 1245.9 451.5 1248.9 451.5 1251.9 451.5 1254.9 451.5 1257.9 451.5 1260.9 451.5 1263.9 451.5 1266.9 451.6 1269.9 451.6 1272.9 451.6 1275.9 451.7 1278.9 451.7 1281.9 451.7 1284.9 451.8 1287.9 451.8 1290.9 451.9 1293.9 451.9 1296.9 452.0 1299.9 452.0 1302.9 452.1 1305.9 452.2 1308.9 452.2 1311.9 452.3 1314.9 452.4 1317.9 452.4 1320.9 452.5 1323.9 452.6 1326.9 452.6 1329.9 452.7 1332.9 452.8 1335.9 452.9 1338.9 453.0 1341.9 453.0 1344.9 453.1 1347.9 453.2 1350.9 453.3 1353.9 453.4 1356.9 453.5 1359.9 453.6 1362.9 453.7 1365.9 453.7 1368.9 453.8 1371.9 453.9 1374.9 454.0 1377.9 454.1 1380.9 454.2 1383.9 454.3 1386.9 454.4 1389.9 454.5 1392.9 454.6 1395.9 454.7 1398.9 454.8 1401.9 454.9 1404.9 454.9 1407.9 455.0 1410.9 455.1 1413.9 455.2 1416.9 455.3 1419.9 455.4 1422.9 455.5 1424.7 455.5" fill="none" stroke="#007306" stroke-width="2.2" stroke-linejoin="round" stroke-linecap="butt" />
<path d="M847.8 174.37 L848.2 173.2 848.7 172.0 849.1 170.8 849.6 169.6 850.1 168.5 850.6 167.3 851.2 166.1 851.7 164.9 852.3 163.8 852.9 162.6 853.5 161.4 854.2 160.3 854.9 159.1 855.7 158.0 856.6 156.8 857.5 155.7 858.5 154.6 859.8 153.5 861.3 152.5 863.4 151.6 866.4 151.3 869.4 152.3 871.8 153.8 873.3 155.1 874.6 156.4 875.7 157.7 876.7 158.9 877.6 160.2 878.5 161.4 879.3 162.7 880.1 163.9 880.8 165.1 881.5 166.3 882.2 167.5 882.9 168.8 883.5 170.0 884.1 171.2 884.7 172.4 885.3 173.6 885.9 174.8 886.5 176.1 887.0 177.3 887.6 178.5 888.1 179.7 888.7 180.9 889.2 182.1 889.7 183.3 890.2 184.5 890.7 185.7 891.2 186.9 891.7 188.1 892.2 189.3 892.6 190.6 893.1 191.8 893.6 193.0 894.0 194.2 894.5 195.4 894.9 196.6 895.4 197.8 895.8 199.0 896.3 200.2 896.7 201.4 897.2 202.6 897.6 203.8 898.0 205.0 898.5 206.2 898.9 207.4 899.3 208.6 899.7 209.8 900.1 211.0 900.6 212.2 901.0 213.4 901.4 214.6 901.8 215.8 902.2 217.0 902.6 218.2 903.0 219.4 903.4 220.7 903.8 221.9 904.2 223.1 904.6 224.3 905.0 225.5 905.4 226.7 905.8 227.9 906.2 229.1 906.6 230.3 907.0 231.5 907.4 232.7 907.8 233.9 908.2 235.1 908.6 236.3 908.9 237.5 909.3 238.7 909.7 239.9 910.1 241.1 910.5 242.3 910.9 243.5 911.2 244.7 911.6 245.9 912.0 247.1 912.4 248.3 912.8 249.5 913.1 250.7 913.5 251.9 913.9 253.1 914.3 254.3 914.7 255.5 915.0 256.7 915.4 257.9 915.8 259.1 916.2 260.3 916.5 261.5 916.9 262.7 917.3 263.9 917.7 265.1 918.0 266.3 918.4 267.5 918.8 268.7 919.2 269.9 919.5 271.1 919.9 272.3 920.3 273.5 920.7 274.7 921.0 275.9 921.4 277.1 921.8 278.3 922.2 279.5 922.5 280.7 922.9 281.9 923.3 283.1 923.6 284.3 924.0 285.5 924.4 286.7 924.8 287.9 925.1 289.1 925.5 290.3 925.9 291.5 926.3 292.7 926.6 293.9 927.0 295.1 927.4 296.3 927.8 297.5 928.2 298.7 928.5 299.9 928.9 301.1 929.3 302.3 929.7 303.5 930.1 304.7 930.4 305.9 930.8 307.1 931.2 308.3 931.6 309.5 932.0 310.7 932.3 311.9 932.7 313.1 933.1 314.3 933.5 315.5 933.9 316.7 934.3 317.9 934.7 319.1 935.1 320.3 935.5 321.5 935.9 322.7 936.2 323.9 936.6 325.1 937.0 326.3 937.4 327.5 937.8 328.7 938.2 329.9 938.6 331.0 939.0 332.2 939.4 333.4 939.9 334.6 940.3 335.8 940.7 337.0 941.1 338.2 941.5 339.4 941.9 340.6 942.3 341.8 942.8 343.0 943.2 344.2 943.6 345.4 944.0 346.6 944.4 347.8 944.9 349.0 945.3 350.2 945.7 351.4 946.2 352.6 946.6 353.8 947.1 355.0 947.5 356.2 948.0 357.4 948.4 358.6 948.9 359.8 949.3 361.0 949.8 362.2 950.3 363.4 950.7 364.6 951.2 365.7 951.7 366.9 952.2 368.1 952.6 369.3 953.1 370.5 953.6 371.7 954.1 372.9 954.6 374.1 955.1 375.3 955.6 376.5 956.2 377.7 956.7 378.9 957.2 380.1 957.8 381.3 958.3 382.5 958.8 383.7 959.4 384.9 959.9 386.1 960.5 387.2 961.1 388.4 961.6 389.6 962.2 390.8 962.8 392.0 963.4 393.2 964.0 394.4 964.6 395.6 965.2 396.8 965.9 398.0 966.5 399.2 967.1 400.4 967.8 401.6 968.5 402.7 969.1 403.9 969.8 405.1 970.5 406.3 971.2 407.5 971.9 408.7 972.6 409.9 973.4 411.1 974.1 412.3 974.9 413.5 975.7 414.6 976.5 415.8 977.3 417.0 978.1 418.2 978.9 419.4 979.8 420.6 980.7 421.8 981.6 423.0 982.5 424.1 983.4 425.3 984.4 426.5 985.4 427.7 986.4 428.9 987.5 430.1 988.5 431.2 989.7 432.4 990.8 433.6 992.0 434.8 993.3 436.0 994.6 437.1 995.9 438.3 997.3 439.5 998.8 440.6 1000.4 441.8 1002.1 443.0 1003.9 444.1 1005.8 445.3 1007.9 446.4 1010.1 447.6 1012.6 448.7 1015.4 449.8 1018.4 450.8 1021.4 451.7 1024.4 452.4 1027.4 453.0 1030.4 453.5 1033.4 453.9 1036.4 454.1 1039.4 454.4 1042.4 454.5 1045.4 454.6 1048.4 454.7 1051.4 454.7 1054.4 454.8 1057.4 454.8 1060.4 454.8 1063.4 454.9 1066.4 454.9 1069.4 454.9 1072.4 455.0 1075.4 455.0 1078.4 455.0 1081.4 455.1 1084.4 455.1 1087.4 455.1 1090.4 455.2 1093.4 455.2 1096.4 455.2 1099.4 455.3 1102.4 455.3 1105.4 455.3 1108.4 455.3 1111.4 455.4 1114.4 455.4 1117.4 455.4 1120.4 455.5 1123.4 455.5 1126.4 455.5 1129.4 455.5 1132.4 455.5 1135.4 455.6 1138.4 455.6 1141.4 455.6 1144.4 455.6 1147.4 455.7 1150.4 455.7 1153.4 455.7 1156.4 455.7 1159.4 455.7 1162.4 455.8 1165.4 455.8 1168.4 455.8 1171.4 455.8 1174.4 455.8 1177.4 455.8 1180.4 455.9 1183.4 455.9 1186.4 455.9 1189.4 455.9 1192.4 455.9 1195.4 455.9 1198.4 456.0 1201.4 456.0 1204.4 456.0 1207.4 456.0 1210.4 456.0 1213.4 456.0 1216.4 456.0 1219.4 456.1 1222.4 456.1 1225.4 456.1 1228.4 456.1 1231.4 456.1 1234.4 456.1 1237.4 456.1 1240.4 456.2 1243.4 456.2 1246.4 456.2 1249.4 456.2 1252.4 456.2 1255.4 456.2 1258.4 456.2 1261.4 456.2 1264.4 456.3 1267.4 456.3 1270.4 456.3 1273.4 456.3 1276.4 456.3 1279.4 456.3 1282.4 456.3 1285.4 456.4 1288.4 456.4 1291.4 456.4 1294.4 456.4 1297.4 456.4 1300.4 456.4 1303.4 456.5 1306.4 456.5 1309.4 456.5 1312.4 456.5 1315.4 456.5 1318.4 456.5 1321.4 456.6 1324.4 456.6 1327.4 456.6 1330.4 456.6 1333.4 456.6 1336.4 456.7 1339.4 456.7 1342.4 456.7 1345.4 456.7 1348.4 456.8 1351.4 456.8 1354.4 456.8 1357.4 456.8 1360.4 456.8 1363.4 456.9 1366.4 456.9 1369.4 456.9 1372.4 457.0 1375.4 457.0 1378.4 457.0 1381.4 457.0 1384.4 457.1 1387.4 457.1 1390.4 457.1 1393.4 457.2 1396.4 457.2 1399.4 457.2 1402.4 457.3 1405.4 457.3 1408.4 457.3 1411.4 457.4 1414.4 457.4 1417.4 457.4 1420.4 457.5 1423.4 457.5 1424.7 457.5" fill="none" stroke="#ab8120" stroke-width="2.2" stroke-linejoin="round" stroke-linecap="butt" />
</g>
<path d="M1424.3 458.5 V598.3" stroke="#ab8120" stroke-width="1" stroke-opacity="0.35"/>
<rect x="929.1" y="498.7" width="450.2" height="36.2" rx="3.5" fill="#fff" fill-opacity="0.8" stroke="#cccccc" stroke-width="1.4"/>
<path d="M935.7 515.3 H980.3" stroke="#6e006f" stroke-width="2.2"/>
<path d="M1102.4 515.3 H1147" stroke="#007306" stroke-width="2.2"/>
<path d="M1257.2 515.3 H1300.2" stroke="#ab8120" stroke-width="2.2"/>
<text x="995" y="521.9" font-size="21.2" textLength="87.1" lengthAdjust="spacingAndGlyphs">Γ = 0.25</text>
<text x="1161.7" y="521.9" font-size="21.2" textLength="75" lengthAdjust="spacingAndGlyphs">Γ = 0.5</text>
<text x="1316.9" y="521.9" font-size="21.2" textLength="54.3" lengthAdjust="spacingAndGlyphs">Γ = 1</text>
<rect x="847.8" y="35.4" width="577.8" height="562.9" fill="none" stroke="#000" stroke-width="2"/>
<path d="M847.8 598.3 V605.3 M944.1 598.3 V605.3 M1040.4 598.3 V605.3 M1136.7 598.3 V605.3 M1233 598.3 V605.3 M1329.3 598.3 V605.3 M1425.6 598.3 V605.3 M840.8 35.4 H847.8 M840.8 105.76 H847.8 M840.8 176.12 H847.8 M840.8 246.49 H847.8 M840.8 316.85 H847.8 M840.8 387.21 H847.8 M840.8 457.57 H847.8 M840.8 527.94 H847.8 M840.8 598.3 H847.8" stroke="#000" stroke-width="2" fill="none"/>
<text x="832" y="44.6" font-size="22.3" text-anchor="end" textLength="31.4" lengthAdjust="spacingAndGlyphs">3.0</text>
<text x="832" y="114.96" font-size="22.3" text-anchor="end" textLength="31.4" lengthAdjust="spacingAndGlyphs">2.5</text>
<text x="832" y="185.32" font-size="22.3" text-anchor="end" textLength="31.4" lengthAdjust="spacingAndGlyphs">2.0</text>
<text x="832" y="255.69" font-size="22.3" text-anchor="end" textLength="31.4" lengthAdjust="spacingAndGlyphs">1.5</text>
<text x="832" y="326.05" font-size="22.3" text-anchor="end" textLength="31.4" lengthAdjust="spacingAndGlyphs">1.0</text>
<text x="832" y="396.41" font-size="22.3" text-anchor="end" textLength="31.4" lengthAdjust="spacingAndGlyphs">0.5</text>
<text x="832" y="466.77" font-size="22.3" text-anchor="end" textLength="31.4" lengthAdjust="spacingAndGlyphs">0.0</text>
<text x="833" y="537.14" font-size="22.3" text-anchor="end" textLength="49.8" lengthAdjust="spacingAndGlyphs">−0.5</text>
<text x="833" y="607.5" font-size="22.3" text-anchor="end" textLength="49.8" lengthAdjust="spacingAndGlyphs">−1.0</text>
<text x="847.8" y="629.8" font-size="22.3" text-anchor="middle" textLength="14" lengthAdjust="spacingAndGlyphs">0</text>
<text x="944.1" y="629.8" font-size="22.3" text-anchor="middle" textLength="40" lengthAdjust="spacingAndGlyphs">500</text>
<text x="1040.4" y="629.8" font-size="22.3" text-anchor="middle" textLength="53.3" lengthAdjust="spacingAndGlyphs">1000</text>
<text x="1136.7" y="629.8" font-size="22.3" text-anchor="middle" textLength="53.3" lengthAdjust="spacingAndGlyphs">1500</text>
<text x="1233" y="629.8" font-size="22.3" text-anchor="middle" textLength="53.3" lengthAdjust="spacingAndGlyphs">2000</text>
<text x="1329.3" y="629.8" font-size="22.3" text-anchor="middle" textLength="53.3" lengthAdjust="spacingAndGlyphs">2500</text>
<text x="1425.6" y="629.8" font-size="22.3" text-anchor="middle" textLength="53.3" lengthAdjust="spacingAndGlyphs">3000</text>
<text x="1137.3" y="662.2" font-size="26.6" text-anchor="middle" textLength="135.5" lengthAdjust="spacingAndGlyphs">Time (a.u.)</text>
<text x="0" y="0" font-size="26" text-anchor="middle" textLength="167.5" lengthAdjust="spacingAndGlyphs" transform="translate(768.6 318.75) rotate(-90)">Current (a.u.)</text>
<circle cx="706.2" cy="992" r="47.5" fill="#606060" fill-opacity="0.6" filter="url(#sh)"/>
<circle cx="705.7" cy="991" r="46.5" fill="#fff"/>
<circle cx="705.7" cy="991" r="43.4" fill="url(#bg)" stroke="url(#rim)" stroke-width="1.7"/>
<circle cx="705.7" cy="991" r="19" fill="#b9cbe9" fill-opacity="0.6"/>
<circle cx="705.7" cy="991" r="18" fill="#0e0e0e"/>
<circle cx="804.9" cy="992.3" r="47.5" fill="#606060" fill-opacity="0.6" filter="url(#sh)"/>
<circle cx="804.4" cy="991.3" r="46.5" fill="#fff"/>
<circle cx="804.4" cy="991.3" r="43.4" fill="url(#bg)" stroke="url(#rim)" stroke-width="1.7"/>
<circle cx="804.4" cy="991.3" r="19" fill="#b9cbe9" fill-opacity="0.6"/>
<circle cx="804.4" cy="991.3" r="18" fill="#0e0e0e"/>
<path d="M625.1 1039.1 H755 M724.1 994 V1057 M786.2 994 V1057" stroke="#e23b3b" stroke-width="1.4" stroke-dasharray="5.4 4.2" fill="none"/>
<path d="M725.2 1057.2 C745 1056 753.5 1048 754.7 1040.9 L755.3 1040.9 C756.5 1048 765 1056 786.9 1057.2 Z" fill="#fe0000"/>
<path d="M630.2 1057 H898" stroke="#6f95d3" stroke-width="1.3"/>
<path d="M644.9 1039.7 V1056.1 M640.1 1047.8 L644.9 1039.2 L649.7 1047.8 M640.1 1048 L644.9 1056.6 L649.7 1048" stroke="#4472c4" stroke-width="2.4" fill="none" stroke-linejoin="miter"/>
<text x="587.2" y="1053.1" font-size="25.5" fill="#e01010" textLength="29.8" lengthAdjust="spacingAndGlyphs">eV</text>
<text x="616.3" y="1059.7" font-size="18.3" fill="#e01010">s</text>
<text x="642.8" y="979" font-size="16" fill="#1a1a1a" stroke="#1a1a1a" stroke-width="0.2" textLength="11.2" lengthAdjust="spacingAndGlyphs">O</text>
<path d="M654.8 965.1 h4.1" stroke="#1a1a1a" stroke-width="1.35"/>
<text x="660" y="959.3" font-size="16" fill="#1a1a1a" stroke="#1a1a1a" stroke-width="0.2" textLength="11.2" lengthAdjust="spacingAndGlyphs">O</text>
<path d="M672 945.4 h4.1" stroke="#1a1a1a" stroke-width="1.35"/>
<text x="714.9" y="943.8" font-size="16" fill="#1a1a1a" stroke="#1a1a1a" stroke-width="0.2" textLength="11.2" lengthAdjust="spacingAndGlyphs">O</text>
<path d="M726.9 929.9 h4.1" stroke="#1a1a1a" stroke-width="1.35"/>
<text x="736.3" y="958.4" font-size="16" fill="#1a1a1a" stroke="#1a1a1a" stroke-width="0.2" textLength="11.2" lengthAdjust="spacingAndGlyphs">O</text>
<path d="M748.3 944.5 h4.1" stroke="#1a1a1a" stroke-width="1.35"/>
<text x="759.6" y="959.3" font-size="16" fill="#1a1a1a" stroke="#1a1a1a" stroke-width="0.2" textLength="11.2" lengthAdjust="spacingAndGlyphs">O</text>
<path d="M771.6 945.4 h4.1" stroke="#1a1a1a" stroke-width="1.35"/>
<text x="776.4" y="945.5" font-size="16" fill="#1a1a1a" stroke="#1a1a1a" stroke-width="0.2" textLength="11.2" lengthAdjust="spacingAndGlyphs">O</text>
<path d="M788.4 931.6 h4.1" stroke="#1a1a1a" stroke-width="1.35"/>
<text x="818" y="945.5" font-size="16" fill="#1a1a1a" stroke="#1a1a1a" stroke-width="0.2" textLength="11.2" lengthAdjust="spacingAndGlyphs">O</text>
<path d="M830 931.6 h4.1" stroke="#1a1a1a" stroke-width="1.35"/>
<text x="829.7" y="966.1" font-size="16" fill="#1a1a1a" stroke="#1a1a1a" stroke-width="0.2" textLength="11.2" lengthAdjust="spacingAndGlyphs">O</text>
<path d="M841.7 952.2 h4.1" stroke="#1a1a1a" stroke-width="1.35"/>
<text x="850" y="975.9" font-size="16" fill="#1a1a1a" stroke="#1a1a1a" stroke-width="0.2" textLength="11.2" lengthAdjust="spacingAndGlyphs">O</text>
<path d="M862 962 h4.1" stroke="#1a1a1a" stroke-width="1.35"/>
<path d="M778.9 880 C775.4 894 782.4 924 804.4 924 C826.4 924 833.4 894 829.9 880 C823.9 896 815.4 904.6 804.4 904.6 C793.4 904.6 784.9 896 778.9 880 Z" fill="#92d050" stroke="#111" stroke-width="1.2" stroke-linejoin="miter"/>
<circle cx="804" cy="880.9" r="22.6" fill="#fff"/>
<circle cx="804" cy="880.9" r="21.2" fill="#f5608e" stroke="#111" stroke-width="1.2"/>
<path d="M807.2 846.1 L804.5 859.2" stroke="#2f5597" stroke-width="3.2"/>
<path d="M823.7 871.6 L845.1 859.9" stroke="#2f5597" stroke-width="3.2"/>
<path d="M815.5 883 L834 883" stroke="#2f5597" stroke-width="3.2"/>
<circle cx="807.6" cy="835.8" r="9.6" fill="#7fd8f2" stroke="#111" stroke-width="1.2"/>
<circle cx="854.7" cy="854.8" r="9.6" fill="#7fd8f2" stroke="#111" stroke-width="1.2"/>
<circle cx="844" cy="882.6" r="9.6" fill="#7fd8f2" stroke="#111" stroke-width="1.2"/>
<circle cx="803.8" cy="932.1" r="6.9" fill="#4472c4" stroke="#17284a" stroke-width="1.2"/>
<path d="M805.2 889.5 C803.13 890.07 796.7 890.27 792.8 892.9 C788.9 895.53 784.6 900.78 781.8 905.3 C779 909.82 777.03 914.72 776 920 C774.97 925.28 774.85 932.25 775.6 937 C776.35 941.75 778.52 945.67 780.5 948.5 C782.48 951.33 786.33 953.08 787.5 954" stroke="#4674c6" stroke-width="1.7" fill="none"/>
<path d="M779.6 953.5 L788.2 954.4 L785.6 947.5" stroke="#4674c6" stroke-width="1.9" fill="none"/>
<text x="791.8" y="964" font-size="14.2" fill="#1b1f2a" stroke="#1b1f2a" stroke-width="0.2">e</text>
<text x="656.3" y="1080.5" font-size="18.5" fill="#1a1a1a" textLength="205.1" lengthAdjust="spacingAndGlyphs" stroke="#1a1a1a" stroke-width="0.25">Reducing-Schottky barrier</text>
<text x="689.8" y="866.8" font-size="16.4" fill="#1a1a1a" textLength="90.5" lengthAdjust="spacingAndGlyphs" stroke="#1a1a1a" stroke-width="0.25">Reducing gas</text>
<text x="877.5" y="884.5" font-size="14.4" fill="#1a1a1a" textLength="116.2" lengthAdjust="spacingAndGlyphs" stroke="#1a1a1a" stroke-width="0.25">Analyte conjugation</text>
<g>
<path d="M431.9 1163.09 L432.0 1160.8 432.2 1158.5 432.3 1156.2 432.5 1154.0 432.6 1151.7 432.8 1149.4 432.9 1147.2 433.1 1145.0 433.2 1142.7 433.4 1140.5 433.5 1138.3 433.7 1136.1 433.8 1134.0 434.0 1131.8 434.1 1129.6 434.3 1127.5 434.4 1125.3 434.6 1123.2 434.7 1121.1 434.9 1118.9 435.0 1116.8 435.2 1114.7 435.3 1112.7 435.5 1110.6 435.6 1108.5 435.8 1106.5 435.9 1104.4 436.1 1102.4 436.2 1100.3 436.4 1098.3 436.5 1096.3 436.7 1094.3 436.8 1092.3 437.0 1090.3 437.1 1088.4 437.3 1086.4 437.4 1084.4 437.6 1082.5 437.7 1080.6 437.9 1078.6 438.0 1076.7 438.2 1074.8 438.3 1072.9 438.5 1071.0 438.6 1069.1 438.8 1067.3 438.9 1065.4 439.1 1063.5 439.2 1061.7 439.4 1059.9 439.5 1058.0 439.7 1056.2 439.8 1054.4 440.0 1052.6 440.1 1050.8 440.3 1049.1 440.4 1047.3 440.6 1045.5 440.7 1043.8 440.9 1042.0 441.0 1040.3 441.2 1038.6 441.3 1036.9 441.5 1035.2 441.6 1033.5 441.8 1031.8 441.9 1030.1 442.1 1028.4 442.2 1026.8 442.4 1025.1 442.5 1023.5 442.7 1021.9 442.8 1020.2 443.0 1018.6 443.1 1017.0 443.3 1015.4 443.4 1013.8 443.6 1012.2 443.7 1010.7 443.9 1009.1 444.0 1007.6 444.2 1006.0 444.3 1004.5 444.5 1003.0 444.6 1001.5 444.8 999.9 444.9 998.4 445.1 997.0 445.2 995.5 445.4 994.0 445.5 992.5 445.7 991.1 445.8 989.6 446.0 988.2 446.1 986.8 446.3 985.4 446.4 984.0 446.6 982.6 446.7 981.2 446.9 979.8 447.0 978.4 447.2 977.0 447.3 975.7 447.5 974.3 447.6 973.0 447.8 971.7 447.9 970.3 448.1 969.0 448.2 967.7 448.4 966.4 448.5 965.1 448.7 963.9 448.8 962.6 449.0 961.3 449.1 960.1 449.3 958.8 449.4 957.6 449.6 956.4 449.7 955.2 449.9 953.9 450.0 952.7 450.2 951.6 450.4 950.4 450.5 949.2 450.7 948.0 450.8 946.8 451.0 945.6 451.1 944.4 451.3 943.2 451.4 942.0 451.6 940.8 451.8 939.6 451.9 938.4 452.1 937.2 452.3 936.0 452.4 934.8 452.6 933.6 452.8 932.4 452.9 931.2 453.1 930.0 453.3 928.8 453.5 927.7 453.7 926.5 453.8 925.3 454.0 924.1 454.2 922.9 454.4 921.7 454.6 920.5 454.8 919.3 455.0 918.1 455.2 916.9 455.4 915.7 455.6 914.5 455.8 913.3 456.0 912.1 456.2 910.9 456.4 909.8 456.6 908.6 456.8 907.4 457.0 906.2 457.2 905.0 457.5 903.8 457.7 902.6 457.9 901.4 458.2 900.2 458.4 899.0 458.7 897.8 458.9 896.7 459.2 895.5 459.4 894.3 459.7 893.1 459.9 891.9 460.2 890.7 460.5 889.5 460.8 888.3 461.1 887.2 461.4 886.0 461.7 884.8 462.0 883.6 462.3 882.4 462.7 881.2 463.0 880.1 463.4 878.9 463.8 877.7 464.1 876.5 464.5 875.4 465.0 874.2 465.4 873.0 465.9 871.9 466.4 870.7 466.9 869.6 467.5 868.4 468.2 867.3 468.9 866.2 469.8 865.1 470.8 864.0 472.3 863.2 475.3 863.4 477.6 865.4 478.6 866.7 479.4 868.0 480.1 869.3 480.8 870.5 481.3 871.8 481.9 873.0 482.4 874.2 482.9 875.5 483.3 876.7 483.7 877.9 484.2 879.2 484.6 880.4 485.0 881.6 485.3 882.8 485.7 884.0 486.1 885.2 486.4 886.5 486.7 887.7 487.1 888.9 487.4 890.1 487.7 891.3 488.0 892.5 488.3 893.7 488.6 894.9 488.9 896.2 489.2 897.4 489.5 898.6 489.8 899.8 490.0 901.0 490.3 902.2 490.6 903.4 490.8 904.6 491.1 905.8 491.4 907.0 491.6 908.2 491.9 909.4 492.1 910.6 492.4 911.9 492.6 913.1 492.9 914.3 493.1 915.5 493.3 916.7 493.6 917.9 493.8 919.1 494.0 920.3 494.3 921.5 494.5 922.7 494.7 923.9 495.0 925.1 495.2 926.3 495.4 927.5 495.6 928.7 495.8 929.9 496.1 931.1 496.3 932.3 496.5 933.5 496.7 934.7 496.9 935.9 497.1 937.2 497.3 938.4 497.5 939.6 497.7 940.8 497.9 942.0 498.2 943.2 498.4 944.4 498.6 945.6 498.8 946.8 499.0 948.0 499.2 949.2 499.4 950.4 499.6 951.6 499.8 952.8 499.9 954.0 500.1 955.2 500.3 956.4 500.5 957.6 500.7 958.8 500.9 960.0 501.1 961.2 501.3 962.4 501.5 963.6 501.7 964.8 501.9 966.0 502.1 967.2 502.2 968.4 502.4 969.6 502.6 970.8 502.8 972.0 503.0 973.2 503.2 974.4 503.3 975.6 503.5 976.8 503.7 978.0 503.9 979.2 504.1 980.4 504.3 981.6 504.4 982.8 504.6 984.0 504.8 985.2 505.0 986.4 505.2 987.6 505.3 988.8 505.5 990.1 505.7 991.3 505.9 992.5 506.0 993.7 506.2 994.9 506.4 996.1 506.6 997.3 506.7 998.5 506.9 999.7 507.1 1000.9 507.3 1002.1 507.4 1003.3 507.6 1004.5 507.8 1005.7 508.0 1006.9 508.1 1008.1 508.3 1009.3 508.5 1010.5 508.6 1011.7 508.8 1012.9 509.0 1014.1 509.1 1015.3 509.3 1016.5 509.5 1017.7 509.7 1018.9 509.8 1020.1 510.0 1021.3 510.2 1022.5 510.3 1023.7 510.5 1024.9 510.7 1026.1 510.8 1027.3 511.0 1028.5 511.2 1029.7 511.3 1030.9 511.5 1032.1 511.7 1033.3 511.9 1034.5 512.0 1035.7 512.2 1036.9 512.4 1038.1 512.5 1039.3 512.7 1040.5 512.9 1041.7 513.0 1042.9 513.2 1044.1 513.4 1045.3 513.5 1046.5 513.7 1047.7 513.9 1048.9 514.0 1050.1 514.2 1051.3 514.3 1052.5 514.5 1053.7 514.7 1054.9 514.8 1056.1 515.0 1057.3 515.2 1058.5 515.3 1059.7 515.5 1060.9 515.7 1062.1 515.8 1063.3 516.0 1064.5 516.2 1065.7 516.3 1066.9 516.5 1068.1 516.7 1069.3 516.8 1070.5 517.0 1071.7 517.2 1072.9 517.3 1074.1 517.5 1075.3 517.7 1076.5 517.8 1077.7 518.0 1078.9 518.2 1080.1 518.3 1081.3 518.5 1082.5 518.7 1083.7 518.8 1084.9 519.0 1086.1 519.2 1087.3 519.3 1088.5 519.5 1089.7 519.7 1090.9 519.8 1092.1 520.0 1093.3 520.2 1094.5 520.3 1095.7 520.5 1096.9 520.7 1098.1 520.8 1099.3 521.0 1100.5 521.2 1101.7 521.3 1102.9 521.5 1104.1 521.7 1105.3 521.8 1106.5 522.0 1107.7 522.2 1108.9 522.3 1110.1 522.5 1111.3 522.7 1112.5 522.8 1113.7 523.0 1114.9 523.2 1116.1 523.4 1117.3 523.5 1118.5 523.7 1119.7 523.9 1120.9 524.0 1122.1 524.2 1123.3 524.4 1124.5 524.6 1125.7 524.7 1126.9 524.9 1128.1 525.1 1129.3 525.2 1130.5 525.4 1131.7 525.6 1132.9 525.8 1134.1 525.9 1135.3 526.1 1136.5 526.3 1137.7 526.5 1138.9 526.6 1140.1 526.8 1141.3 527.0 1142.5 527.2 1143.7 527.3 1144.9 527.5 1146.1 527.7 1147.2 527.9 1148.4 528.0 1149.6 528.2 1150.8 528.4 1152.0 528.6 1153.2 528.8 1154.4 528.9 1155.6 529.1 1156.8 529.3 1158.0 529.5 1159.2 529.7 1160.4 529.8 1161.6 530.0 1162.8 530.2 1164.0 530.4 1165.2 530.6 1166.4 530.8 1167.6 531.0 1168.8 531.1 1170.0 531.3 1171.2 531.5 1172.4 531.7 1173.6 531.9 1174.8 532.1 1176.0 532.3 1177.2 532.5 1178.4 532.6 1179.6 532.8 1180.8 533.0 1182.0 533.2 1183.2 533.4 1184.4 533.6 1185.6 533.8 1186.8 534.0 1188.0 534.2 1189.2 534.4 1190.4 534.6 1191.6 534.8 1192.8 535.0 1194.0 535.2 1195.2 535.4 1196.4 535.6 1197.6 535.8 1198.8 536.0 1200.0 536.2 1201.2 536.4 1202.4 536.6 1203.6 536.8 1204.8 537.0 1206.0 537.2 1207.1 537.4 1208.3 537.6 1209.5 537.9 1210.7 538.1 1211.9 538.3 1213.1 538.5 1214.3 538.7 1215.5 538.9 1216.7 539.2 1217.9 539.4 1219.1 539.6 1220.3 539.8 1221.5 540.1 1222.7 540.3 1223.9 540.5 1225.1 540.7 1226.3 541.0 1227.5 541.2 1228.7 541.4 1229.9 541.7 1231.1 541.9 1232.3 542.2 1233.5 542.4 1234.7 542.6 1235.9 542.9 1237.0 543.1 1238.2 543.4 1239.4 543.7 1240.6 543.9 1241.8 544.2 1243.0 544.4 1244.2 544.7 1245.4 545.0 1246.6 545.2 1247.8 545.5 1249.0 545.8 1250.2 546.1 1251.4 546.4 1252.6 546.6 1253.8 546.9 1254.9 547.2 1256.1 547.5 1257.3 547.8 1258.5 548.2 1259.7 548.5 1260.9 548.8 1262.1 549.1 1263.3 549.4 1264.5 549.8 1265.7 550.1 1266.9 550.5 1268.0 550.8 1269.2 551.2 1270.4 551.5 1271.6 551.9 1272.8 552.3 1274.0 552.7 1275.2 553.1 1276.4 553.5 1277.5 553.9 1278.7 554.3 1279.9 554.7 1281.1 555.2 1282.3 555.7 1283.5 556.1 1284.6 556.6 1285.8 557.1 1287.0 557.6 1288.2 558.2 1289.4 558.8 1290.5 559.3 1291.7 560.0 1292.9 560.6 1294.0 561.3 1295.2 562.0 1296.4 562.8 1297.5 563.6 1298.7 564.6 1299.8 565.6 1300.9 566.7 1302.1 568.1 1303.1 569.9 1304.1 572.5 1304.9 575.5 1304.8 578.5 1303.6 580.6 1302.1 582.2 1300.8 583.4 1299.5 584.6 1298.3 585.6 1297.0 586.6 1295.8 587.5 1294.6 588.3 1293.3 589.1 1292.1 589.9 1290.9 590.6 1289.7 591.4 1288.4 592.1 1287.2 592.8 1286.0 593.4 1284.8 594.1 1283.6 594.7 1282.4 595.4 1281.2 596.0 1279.9 596.6 1278.7 597.2 1277.5 597.8 1276.3 598.3 1275.1 598.9 1273.9 599.5 1272.7 600.1 1271.5 600.6 1270.3 601.2 1269.1 601.7 1267.9 602.3 1266.7 602.8 1265.5 603.3 1264.3 603.9 1263.1 604.4 1261.9 604.9 1260.7 605.4 1259.5 606.0 1258.3 606.5 1257.1 607.0 1255.8 607.5 1254.6 608.0 1253.4 608.5 1252.2 609.1 1251.0 609.6 1249.8 610.1 1248.6 610.6 1247.4 611.1 1246.2 611.6 1245.0 612.1 1243.8 612.6 1242.6 613.1 1241.4 613.7 1240.2 614.2 1239.0 614.7 1237.9 615.2 1236.7 615.7 1235.5 616.2 1234.3 616.8 1233.1 617.3 1231.9 617.8 1230.7 618.4 1229.5 618.9 1228.3 619.4 1227.1 620.0 1225.9 620.5 1224.7 621.1 1223.5 621.6 1222.3 622.2 1221.1 622.8 1219.9 623.3 1218.7 623.9 1217.5 624.5 1216.3 625.1 1215.1 625.7 1214.0 626.3 1212.8 627.0 1211.6 627.6 1210.4 628.2 1209.2 628.9 1208.0 629.6 1206.8 630.3 1205.6 631.0 1204.5 631.7 1203.3 632.5 1202.1 633.3 1200.9 634.1 1199.8 635.0 1198.6 635.9 1197.4 636.9 1196.3 638.0 1195.1 639.1 1194.0 640.4 1192.9 641.9 1191.7 643.6 1190.7 645.8 1189.7 648.8 1188.9 651.8 1188.7 654.8 1189.1 657.8 1190.0 660.8 1191.4 663.1 1192.7 665.1 1194.0 666.8 1195.2 668.4 1196.5 669.9 1197.7 671.4 1198.9 672.8 1200.1 674.1 1201.4 675.4 1202.6 676.7 1203.8 678.0 1205.0 679.3 1206.2 680.5 1207.4 681.8 1208.6 683.0 1209.8 684.3 1211.0 685.5 1212.2 686.8 1213.4 688.0 1214.6 689.3 1215.8 690.6 1217.0 691.8 1218.2 693.2 1219.4 694.5 1220.5 695.8 1221.7 697.2 1222.9 698.7 1224.1 700.1 1225.3 701.6 1226.5 703.2 1227.6 704.9 1228.8 706.6 1230.0 708.5 1231.1 710.6 1232.2 712.9 1233.4 715.6 1234.4 718.6 1235.3 721.6 1236.0 724.6 1236.3 727.6 1236.4 730.6 1236.2 733.6 1235.7 736.6 1235.1 739.6 1234.2 742.6 1233.1 745.6 1231.8 748.2 1230.5 750.5 1229.3 752.7 1228.0 754.7 1226.8 756.6 1225.6 758.5 1224.4 760.3 1223.1 762.0 1221.9 763.7 1220.7 765.4 1219.5 767.1 1218.3 768.8 1217.1 770.5 1215.9 772.1 1214.7 773.8 1213.5 775.5 1212.3 777.3 1211.1 779.0 1210.0 780.8 1208.8 782.7 1207.6 784.7 1206.4 786.7 1205.3 788.9 1204.1 791.2 1203.0 793.9 1201.9 796.9 1200.8 799.9 1199.9 802.9 1199.3 805.9 1198.9 808.9 1198.7 811.9 1198.7 814.9 1198.8 817.9 1199.1 820.9 1199.6 823.9 1200.1 826.9 1200.9 829.9 1201.7 832.9 1202.6 835.9 1203.6 838.9 1204.7 841.9 1205.8 844.9 1207.0 847.8 1208.3 850.7 1209.5 853.5 1210.7 856.3 1211.9 859.0 1213.1 861.9 1214.3 864.7 1215.5 867.6 1216.6 870.6 1217.8 873.6 1218.9 876.6 1219.9 879.6 1220.9 882.6 1221.7 885.6 1222.4 888.6 1223.1 891.6 1223.6 894.6 1224.0 897.6 1224.4 900.6 1224.6 903.6 1224.8 906.6 1224.9 909.6 1224.9 912.6 1224.8 915.6 1224.7 918.6 1224.6 921.6 1224.3 924.6 1224.1 927.6 1223.8 930.6 1223.4 933.6 1223.1 936.6 1222.7 939.6 1222.2 942.6 1221.8 945.6 1221.3 948.6 1220.9 951.6 1220.4 954.6 1220.0 957.6 1219.5 960.6 1219.1 963.6 1218.7 966.6 1218.3 969.6 1217.9 972.6 1217.6 975.6 1217.3 978.6 1217.0 981.6 1216.8 984.6 1216.6 987.6 1216.6 990.6 1216.5 993.6 1216.6 996.6 1216.7 999.6 1216.8 1002.6 1217.1 1005.6 1217.5 1008.6 1217.9 1008.8 1218.0" fill="none" stroke="#6e006f" stroke-width="2.2" stroke-linejoin="round" stroke-linecap="butt" />
<path d="M431.9 1087.95 L432.0 1085.8 432.2 1083.6 432.3 1081.5 432.5 1079.3 432.6 1077.2 432.8 1075.1 432.9 1073.0 433.1 1070.9 433.2 1068.8 433.4 1066.7 433.5 1064.6 433.7 1062.6 433.8 1060.6 434.0 1058.5 434.1 1056.5 434.3 1054.5 434.4 1052.5 434.6 1050.6 434.7 1048.6 434.9 1046.6 435.0 1044.7 435.2 1042.8 435.3 1040.8 435.5 1038.9 435.6 1037.0 435.8 1035.1 435.9 1033.3 436.1 1031.4 436.2 1029.5 436.4 1027.7 436.5 1025.9 436.7 1024.0 436.8 1022.2 437.0 1020.4 437.1 1018.7 437.3 1016.9 437.4 1015.1 437.6 1013.4 437.7 1011.6 437.9 1009.9 438.0 1008.2 438.2 1006.5 438.3 1004.8 438.5 1003.1 438.6 1001.4 438.8 999.7 438.9 998.1 439.1 996.4 439.2 994.8 439.4 993.2 439.5 991.6 439.7 990.0 439.8 988.4 440.0 986.8 440.1 985.2 440.3 983.7 440.4 982.1 440.6 980.6 440.7 979.1 440.9 977.5 441.0 976.0 441.2 974.6 441.3 973.1 441.5 971.6 441.6 970.1 441.8 968.7 441.9 967.2 442.1 965.8 442.2 964.4 442.4 963.0 442.5 961.6 442.7 960.2 442.8 958.8 443.0 957.4 443.1 956.1 443.3 954.7 443.4 953.4 443.6 952.1 443.7 950.8 443.9 949.5 444.0 948.2 444.2 946.9 444.3 945.6 444.5 944.3 444.6 943.1 444.8 941.8 444.9 940.6 445.1 939.4 445.2 938.2 445.4 936.9 445.5 935.8 445.7 934.6 445.9 933.4 446.0 932.2 446.2 931.0 446.3 929.8 446.5 928.6 446.6 927.4 446.8 926.2 447.0 925.0 447.1 923.8 447.3 922.6 447.5 921.4 447.6 920.2 447.8 919.0 448.0 917.8 448.1 916.6 448.3 915.4 448.5 914.3 448.7 913.1 448.9 911.9 449.0 910.7 449.2 909.5 449.4 908.3 449.6 907.1 449.8 905.9 450.0 904.7 450.2 903.5 450.4 902.3 450.6 901.1 450.8 899.9 451.0 898.8 451.2 897.6 451.5 896.4 451.7 895.2 451.9 894.0 452.1 892.8 452.4 891.6 452.6 890.4 452.8 889.2 453.1 888.1 453.3 886.9 453.6 885.7 453.9 884.5 454.1 883.3 454.4 882.1 454.7 880.9 455.0 879.8 455.3 878.6 455.6 877.4 455.9 876.2 456.2 875.0 456.5 873.8 456.9 872.7 457.2 871.5 457.6 870.3 458.0 869.1 458.4 868.0 458.9 866.8 459.3 865.6 459.8 864.5 460.3 863.3 460.9 862.2 461.5 861.1 462.2 859.9 463.1 858.9 464.1 857.8 465.5 857.0 468.5 857.2 470.8 859.1 471.8 860.5 472.6 861.8 473.4 863.0 474.0 864.3 474.6 865.5 475.1 866.8 475.6 868.0 476.1 869.2 476.6 870.5 477.1 871.7 477.5 872.9 477.9 874.1 478.3 875.3 478.7 876.6 479.1 877.8 479.4 879.0 479.8 880.2 480.1 881.4 480.5 882.6 480.8 883.8 481.1 885.1 481.5 886.3 481.8 887.5 482.1 888.7 482.4 889.9 482.7 891.1 483.0 892.3 483.3 893.5 483.6 894.7 483.9 895.9 484.2 897.1 484.4 898.4 484.7 899.6 485.0 900.8 485.2 902.0 485.5 903.2 485.8 904.4 486.0 905.6 486.3 906.8 486.5 908.0 486.8 909.2 487.0 910.4 487.3 911.6 487.5 912.8 487.8 914.0 488.0 915.2 488.3 916.4 488.5 917.6 488.7 918.9 489.0 920.1 489.2 921.3 489.4 922.5 489.7 923.7 489.9 924.9 490.1 926.1 490.3 927.3 490.6 928.5 490.8 929.7 491.0 930.9 491.2 932.1 491.5 933.3 491.7 934.5 491.9 935.7 492.1 936.9 492.3 938.1 492.5 939.3 492.8 940.5 493.0 941.7 493.2 942.9 493.4 944.1 493.6 945.3 493.8 946.5 494.0 947.7 494.2 948.9 494.4 950.1 494.6 951.3 494.8 952.5 495.0 953.7 495.2 954.9 495.4 956.1 495.6 957.3 495.8 958.5 496.0 959.8 496.2 961.0 496.4 962.2 496.6 963.4 496.8 964.6 497.0 965.8 497.2 967.0 497.4 968.2 497.6 969.4 497.8 970.6 498.0 971.8 498.2 973.0 498.4 974.2 498.6 975.4 498.8 976.6 499.0 977.8 499.1 979.0 499.3 980.2 499.5 981.4 499.7 982.6 499.9 983.8 500.1 985.0 500.3 986.2 500.5 987.4 500.7 988.6 500.8 989.8 501.0 991.0 501.2 992.2 501.4 993.4 501.6 994.6 501.8 995.8 502.0 997.0 502.1 998.2 502.3 999.4 502.5 1000.6 502.7 1001.8 502.9 1003.0 503.1 1004.2 503.2 1005.4 503.4 1006.6 503.6 1007.8 503.8 1009.0 504.0 1010.2 504.2 1011.4 504.3 1012.6 504.5 1013.8 504.7 1015.0 504.9 1016.2 505.1 1017.4 505.3 1018.6 505.4 1019.8 505.6 1021.0 505.8 1022.2 506.0 1023.4 506.2 1024.6 506.3 1025.8 506.5 1027.0 506.7 1028.2 506.9 1029.4 507.1 1030.6 507.2 1031.8 507.4 1033.0 507.6 1034.2 507.8 1035.4 508.0 1036.6 508.1 1037.8 508.3 1039.0 508.5 1040.2 508.7 1041.4 508.9 1042.6 509.0 1043.8 509.2 1045.0 509.4 1046.2 509.6 1047.4 509.8 1048.6 509.9 1049.8 510.1 1051.0 510.3 1052.2 510.5 1053.4 510.7 1054.6 510.8 1055.8 511.0 1057.0 511.2 1058.2 511.4 1059.4 511.6 1060.6 511.7 1061.8 511.9 1063.0 512.1 1064.2 512.3 1065.4 512.5 1066.6 512.6 1067.8 512.8 1069.0 513.0 1070.2 513.2 1071.4 513.4 1072.6 513.6 1073.8 513.7 1075.0 513.9 1076.2 514.1 1077.4 514.3 1078.6 514.5 1079.8 514.6 1081.0 514.8 1082.2 515.0 1083.4 515.2 1084.6 515.4 1085.8 515.6 1087.0 515.8 1088.2 515.9 1089.4 516.1 1090.6 516.3 1091.8 516.5 1093.0 516.7 1094.2 516.9 1095.4 517.1 1096.6 517.2 1097.8 517.4 1099.0 517.6 1100.2 517.8 1101.4 518.0 1102.6 518.2 1103.8 518.4 1105.0 518.6 1106.2 518.7 1107.4 518.9 1108.6 519.1 1109.8 519.3 1111.0 519.5 1112.2 519.7 1113.4 519.9 1114.6 520.1 1115.8 520.3 1117.0 520.5 1118.2 520.7 1119.4 520.9 1120.6 521.1 1121.8 521.3 1123.0 521.5 1124.2 521.7 1125.4 521.9 1126.6 522.0 1127.8 522.2 1128.9 522.4 1130.1 522.6 1131.3 522.9 1132.5 523.1 1133.7 523.3 1134.9 523.5 1136.1 523.7 1137.3 523.9 1138.5 524.1 1139.7 524.3 1140.9 524.5 1142.1 524.7 1143.3 524.9 1144.5 525.1 1145.7 525.3 1146.9 525.5 1148.1 525.7 1149.3 526.0 1150.5 526.2 1151.7 526.4 1152.9 526.6 1154.1 526.8 1155.3 527.0 1156.5 527.2 1157.7 527.5 1158.9 527.7 1160.1 527.9 1161.3 528.1 1162.5 528.3 1163.7 528.6 1164.9 528.8 1166.1 529.0 1167.3 529.2 1168.5 529.5 1169.7 529.7 1170.9 529.9 1172.1 530.1 1173.3 530.4 1174.5 530.6 1175.7 530.8 1176.9 531.1 1178.0 531.3 1179.2 531.6 1180.4 531.8 1181.6 532.0 1182.8 532.3 1184.0 532.5 1185.2 532.8 1186.4 533.0 1187.6 533.2 1188.8 533.5 1190.0 533.7 1191.2 534.0 1192.4 534.2 1193.6 534.5 1194.8 534.8 1196.0 535.0 1197.2 535.3 1198.4 535.5 1199.6 535.8 1200.8 536.1 1202.0 536.3 1203.2 536.6 1204.4 536.9 1205.6 537.1 1206.8 537.4 1208.0 537.7 1209.1 538.0 1210.3 538.2 1211.5 538.5 1212.7 538.8 1213.9 539.1 1215.1 539.4 1216.3 539.7 1217.5 540.0 1218.7 540.3 1219.9 540.6 1221.1 540.9 1222.3 541.2 1223.5 541.5 1224.7 541.8 1225.9 542.1 1227.1 542.5 1228.3 542.8 1229.4 543.1 1230.6 543.5 1231.8 543.8 1233.0 544.1 1234.2 544.5 1235.4 544.8 1236.6 545.2 1237.8 545.6 1239.0 545.9 1240.2 546.3 1241.4 546.7 1242.6 547.1 1243.7 547.5 1244.9 547.9 1246.1 548.3 1247.3 548.7 1248.5 549.1 1249.7 549.6 1250.9 550.0 1252.1 550.5 1253.2 550.9 1254.4 551.4 1255.6 551.9 1256.8 552.5 1258.0 553.0 1259.1 553.6 1260.3 554.1 1261.5 554.7 1262.7 555.4 1263.8 556.1 1265.0 556.8 1266.1 557.6 1267.3 558.4 1268.5 559.3 1269.6 560.3 1270.7 561.5 1271.8 562.8 1272.9 564.5 1273.9 567.0 1274.8 570.0 1274.9 573.0 1274.1 576.0 1272.5 577.8 1271.2 579.3 1269.9 580.7 1268.7 581.9 1267.4 583.0 1266.2 584.1 1265.0 585.1 1263.7 586.1 1262.5 587.0 1261.3 588.0 1260.1 588.9 1258.9 589.7 1257.7 590.6 1256.5 591.4 1255.2 592.3 1254.0 593.1 1252.8 593.9 1251.6 594.7 1250.4 595.5 1249.2 596.4 1248.0 597.2 1246.8 598.0 1245.6 598.8 1244.4 599.6 1243.2 600.4 1242.0 601.2 1240.8 602.0 1239.6 602.8 1238.4 603.6 1237.2 604.5 1236.0 605.3 1234.8 606.1 1233.6 607.0 1232.5 607.8 1231.3 608.7 1230.1 609.5 1228.9 610.4 1227.7 611.3 1226.5 612.2 1225.3 613.1 1224.1 614.0 1222.9 614.9 1221.7 615.9 1220.5 616.8 1219.3 617.8 1218.1 618.8 1217.0 619.8 1215.8 620.9 1214.6 621.9 1213.4 623.0 1212.2 624.1 1211.0 625.3 1209.8 626.5 1208.7 627.7 1207.5 629.0 1206.3 630.3 1205.2 631.7 1204.0 633.2 1202.8 634.8 1201.7 636.6 1200.5 638.5 1199.4 640.8 1198.3 643.5 1197.3 646.5 1196.5 649.5 1196.3 652.5 1196.4 655.5 1196.9 658.5 1197.8 661.5 1198.9 664.3 1200.2 666.8 1201.5 669.0 1202.7 671.1 1203.9 673.1 1205.2 675.0 1206.4 677.0 1207.6 678.9 1208.8 680.8 1210.0 682.8 1211.1 684.9 1212.3 687.0 1213.5 689.3 1214.7 691.6 1215.8 694.1 1217.0 696.7 1218.2 699.5 1219.3 702.5 1220.4 705.5 1221.4 708.5 1222.3 711.5 1223.0 714.5 1223.6 717.5 1224.1 720.5 1224.4 723.5 1224.6 726.5 1224.7 729.5 1224.6 732.5 1224.4 735.5 1224.1 738.5 1223.7 741.5 1223.3 744.5 1222.7 747.5 1222.1 750.5 1221.5 753.5 1220.7 756.5 1220.0 759.5 1219.2 762.5 1218.4 765.5 1217.6 768.5 1216.8 771.5 1216.1 774.5 1215.3 777.5 1214.6 780.5 1213.9 783.5 1213.3 786.5 1212.7 789.5 1212.2 792.5 1211.8 795.5 1211.5 798.5 1211.3 801.5 1211.2 804.5 1211.2 807.5 1211.2 810.5 1211.3 813.5 1211.5 816.5 1211.8 819.5 1212.1 822.5 1212.5 825.5 1212.9 828.5 1213.4 831.5 1213.9 834.5 1214.5 837.5 1215.0 840.5 1215.6 843.5 1216.2 846.5 1216.8 849.5 1217.4 852.5 1218.1 855.5 1218.7 858.5 1219.2 861.5 1219.8 864.5 1220.3 867.5 1220.9 870.5 1221.3 873.5 1221.8 876.5 1222.1 879.5 1222.5 882.5 1222.8 885.5 1223.1 888.5 1223.3 891.5 1223.5 894.5 1223.6 897.5 1223.8 900.5 1223.9 903.5 1223.9 906.5 1224.0 909.5 1224.0 912.5 1224.0 915.5 1224.0 918.5 1223.9 921.5 1223.8 924.5 1223.8 927.5 1223.7 930.5 1223.6 933.5 1223.5 936.5 1223.3 939.5 1223.2 942.5 1223.1 945.5 1223.0 948.5 1222.8 951.5 1222.7 954.5 1222.6 957.5 1222.4 960.5 1222.3 963.5 1222.2 966.5 1222.1 969.5 1222.0 972.5 1222.0 975.5 1221.9 978.5 1221.9 981.5 1221.9 984.5 1221.9 987.5 1221.9 990.5 1222.0 993.5 1222.0 996.5 1222.1 999.5 1222.3 1002.5 1222.5 1005.5 1222.7 1008.5 1222.9 1008.8 1222.9" fill="none" stroke="#007306" stroke-width="2.2" stroke-linejoin="round" stroke-linecap="butt" />
<path d="M431.9 939.15 L432.0 937.5 432.2 936.0 432.3 934.4 432.5 932.8 432.6 931.3 432.8 929.7 432.9 928.2 433.1 926.7 433.2 925.2 433.4 923.7 433.5 922.2 433.7 920.8 433.8 919.3 434.0 917.9 434.1 916.5 434.3 915.1 434.4 913.7 434.6 912.3 434.7 910.9 434.9 909.5 435.0 908.2 435.2 906.9 435.3 905.5 435.5 904.2 435.6 902.9 435.8 901.6 435.9 900.4 436.1 899.1 436.2 897.8 436.4 896.6 436.5 895.4 436.7 894.2 436.8 893.0 437.0 891.8 437.2 890.6 437.3 889.4 437.5 888.2 437.6 887.0 437.8 885.8 437.9 884.6 438.1 883.4 438.3 882.2 438.4 881.0 438.6 879.8 438.8 878.6 438.9 877.4 439.1 876.3 439.3 875.1 439.5 873.9 439.6 872.7 439.8 871.5 440.0 870.3 440.2 869.1 440.4 867.9 440.6 866.7 440.8 865.5 441.0 864.3 441.2 863.2 441.4 862.0 441.6 860.8 441.8 859.6 442.1 858.4 442.3 857.2 442.5 856.0 442.7 854.8 443.0 853.6 443.2 852.5 443.5 851.3 443.7 850.1 444.0 848.9 444.3 847.7 444.5 846.5 444.8 845.4 445.1 844.2 445.4 843.0 445.7 841.8 446.1 840.6 446.4 839.5 446.8 838.3 447.1 837.1 447.5 836.0 447.9 834.8 448.4 833.6 448.9 832.5 449.4 831.3 449.9 830.2 450.6 829.1 451.3 828.0 452.2 826.9 453.4 826.0 455.4 825.6 458.4 827.6 459.5 828.9 460.3 830.2 461.0 831.5 461.6 832.8 462.2 834.0 462.7 835.2 463.2 836.5 463.7 837.7 464.1 838.9 464.6 840.2 465.0 841.4 465.4 842.6 465.8 843.8 466.1 845.0 466.5 846.3 466.9 847.5 467.2 848.7 467.5 849.9 467.9 851.1 468.2 852.3 468.5 853.5 468.8 854.7 469.1 855.9 469.4 857.2 469.7 858.4 470.0 859.6 470.3 860.8 470.6 862.0 470.9 863.2 471.2 864.4 471.4 865.6 471.7 866.8 472.0 868.0 472.2 869.2 472.5 870.4 472.8 871.6 473.0 872.9 473.3 874.1 473.5 875.3 473.8 876.5 474.0 877.7 474.3 878.9 474.5 880.1 474.8 881.3 475.0 882.5 475.2 883.7 475.5 884.9 475.7 886.1 475.9 887.3 476.2 888.5 476.4 889.7 476.6 890.9 476.8 892.1 477.1 893.3 477.3 894.5 477.5 895.7 477.7 896.9 477.9 898.1 478.2 899.4 478.4 900.6 478.6 901.8 478.8 903.0 479.0 904.2 479.2 905.4 479.4 906.6 479.7 907.8 479.9 909.0 480.1 910.2 480.3 911.4 480.5 912.6 480.7 913.8 480.9 915.0 481.1 916.2 481.3 917.4 481.5 918.6 481.7 919.8 481.9 921.0 482.1 922.2 482.3 923.4 482.5 924.6 482.7 925.8 482.9 927.0 483.1 928.2 483.3 929.4 483.5 930.6 483.7 931.8 483.9 933.0 484.1 934.2 484.3 935.4 484.5 936.6 484.6 937.8 484.8 939.0 485.0 940.2 485.2 941.4 485.4 942.6 485.6 943.8 485.8 945.0 486.0 946.2 486.2 947.4 486.4 948.6 486.5 949.8 486.7 951.0 486.9 952.2 487.1 953.4 487.3 954.6 487.5 955.8 487.7 957.0 487.8 958.2 488.0 959.4 488.2 960.6 488.4 961.8 488.6 963.1 488.8 964.3 488.9 965.5 489.1 966.7 489.3 967.9 489.5 969.1 489.7 970.3 489.9 971.5 490.0 972.7 490.2 973.9 490.4 975.1 490.6 976.3 490.8 977.5 490.9 978.7 491.1 979.9 491.3 981.1 491.5 982.3 491.7 983.5 491.8 984.7 492.0 985.9 492.2 987.1 492.4 988.3 492.6 989.5 492.7 990.7 492.9 991.9 493.1 993.1 493.3 994.3 493.5 995.5 493.6 996.7 493.8 997.9 494.0 999.1 494.2 1000.3 494.4 1001.5 494.5 1002.7 494.7 1003.9 494.9 1005.1 495.1 1006.3 495.3 1007.5 495.4 1008.7 495.6 1009.9 495.8 1011.1 496.0 1012.3 496.1 1013.5 496.3 1014.7 496.5 1015.9 496.7 1017.1 496.9 1018.3 497.0 1019.5 497.2 1020.7 497.4 1021.9 497.6 1023.1 497.8 1024.3 497.9 1025.5 498.1 1026.7 498.3 1027.9 498.5 1029.1 498.7 1030.3 498.8 1031.5 499.0 1032.7 499.2 1033.9 499.4 1035.1 499.6 1036.3 499.7 1037.5 499.9 1038.7 500.1 1039.9 500.3 1041.1 500.5 1042.3 500.7 1043.5 500.8 1044.7 501.0 1045.9 501.2 1047.1 501.4 1048.3 501.6 1049.5 501.7 1050.6 501.9 1051.8 502.1 1053.0 502.3 1054.2 502.5 1055.4 502.7 1056.6 502.9 1057.8 503.0 1059.0 503.2 1060.2 503.4 1061.4 503.6 1062.6 503.8 1063.8 504.0 1065.0 504.2 1066.2 504.4 1067.4 504.5 1068.6 504.7 1069.8 504.9 1071.0 505.1 1072.2 505.3 1073.4 505.5 1074.6 505.7 1075.8 505.9 1077.0 506.1 1078.2 506.3 1079.4 506.5 1080.6 506.7 1081.8 506.8 1083.0 507.0 1084.2 507.2 1085.4 507.4 1086.6 507.6 1087.8 507.8 1089.0 508.0 1090.2 508.2 1091.4 508.4 1092.6 508.6 1093.8 508.8 1095.0 509.0 1096.2 509.2 1097.4 509.4 1098.6 509.6 1099.8 509.9 1101.0 510.1 1102.2 510.3 1103.4 510.5 1104.6 510.7 1105.8 510.9 1107.0 511.1 1108.2 511.3 1109.4 511.5 1110.6 511.7 1111.8 512.0 1113.0 512.2 1114.1 512.4 1115.3 512.6 1116.5 512.8 1117.7 513.1 1118.9 513.3 1120.1 513.5 1121.3 513.7 1122.5 514.0 1123.7 514.2 1124.9 514.4 1126.1 514.6 1127.3 514.9 1128.5 515.1 1129.7 515.4 1130.9 515.6 1132.1 515.8 1133.3 516.1 1134.5 516.3 1135.7 516.6 1136.9 516.8 1138.1 517.0 1139.3 517.3 1140.5 517.5 1141.7 517.8 1142.9 518.1 1144.1 518.3 1145.2 518.6 1146.4 518.8 1147.6 519.1 1148.8 519.4 1150.0 519.6 1151.2 519.9 1152.4 520.2 1153.6 520.4 1154.8 520.7 1156.0 521.0 1157.2 521.3 1158.4 521.6 1159.6 521.8 1160.8 522.1 1162.0 522.4 1163.2 522.7 1164.4 523.0 1165.6 523.3 1166.8 523.6 1167.9 523.9 1169.1 524.2 1170.3 524.5 1171.5 524.8 1172.7 525.2 1173.9 525.5 1175.1 525.8 1176.3 526.1 1177.5 526.5 1178.7 526.8 1179.9 527.1 1181.1 527.5 1182.3 527.8 1183.5 528.2 1184.7 528.5 1185.8 528.9 1187.0 529.2 1188.2 529.6 1189.4 530.0 1190.6 530.4 1191.8 530.7 1193.0 531.1 1194.2 531.5 1195.4 531.9 1196.6 532.3 1197.8 532.8 1199.0 533.2 1200.1 533.6 1201.3 534.0 1202.5 534.5 1203.7 534.9 1204.9 535.4 1206.1 535.9 1207.3 536.3 1208.5 536.8 1209.7 537.3 1210.8 537.8 1212.0 538.3 1213.2 538.9 1214.4 539.4 1215.6 540.0 1216.8 540.5 1218.0 541.1 1219.1 541.7 1220.3 542.4 1221.5 543.0 1222.7 543.7 1223.9 544.4 1225.0 545.1 1226.2 545.8 1227.4 546.6 1228.6 547.4 1229.7 548.2 1230.9 549.1 1232.1 550.1 1233.2 551.1 1234.4 552.2 1235.5 553.4 1236.7 554.7 1237.8 556.1 1239.0 557.8 1240.1 559.8 1241.1 562.3 1242.1 565.3 1242.8 568.3 1243.0 571.3 1242.7 574.3 1242.1 577.3 1241.0 580.3 1239.7 582.7 1238.4 584.8 1237.1 586.8 1235.9 588.6 1234.7 590.3 1233.4 592.0 1232.2 593.6 1231.0 595.2 1229.8 596.8 1228.6 598.3 1227.4 599.9 1226.2 601.4 1225.0 602.9 1223.8 604.5 1222.6 606.0 1221.4 607.6 1220.2 609.3 1219.0 611.0 1217.9 612.7 1216.7 614.6 1215.5 616.6 1214.4 618.7 1213.3 621.2 1212.1 624.0 1211.1 627.0 1210.3 630.0 1209.8 633.0 1209.6 636.0 1209.6 639.0 1209.9 642.0 1210.3 645.0 1210.8 648.0 1211.5 651.0 1212.2 654.0 1212.9 657.0 1213.7 660.0 1214.4 663.0 1215.1 666.0 1215.8 669.0 1216.4 672.0 1217.0 675.0 1217.6 678.0 1218.1 681.0 1218.6 684.0 1219.0 687.0 1219.4 690.0 1219.8 693.0 1220.2 696.0 1220.5 699.0 1220.8 702.0 1221.1 705.0 1221.4 708.0 1221.6 711.0 1221.8 714.0 1222.0 717.0 1222.2 720.0 1222.3 723.0 1222.5 726.0 1222.6 729.0 1222.7 732.0 1222.8 735.0 1222.9 738.0 1222.9 741.0 1223.0 744.0 1223.0 747.0 1223.0 750.0 1223.1 753.0 1223.1 756.0 1223.1 759.0 1223.1 762.0 1223.1 765.0 1223.1 768.0 1223.1 771.0 1223.0 774.0 1223.0 777.0 1223.0 780.0 1223.0 783.0 1223.0 786.0 1223.0 789.0 1223.0 792.0 1223.0 795.0 1223.0 798.0 1223.0 801.0 1223.0 804.0 1223.1 807.0 1223.1 810.0 1223.1 813.0 1223.1 816.0 1223.2 819.0 1223.2 822.0 1223.3 825.0 1223.3 828.0 1223.3 831.0 1223.4 834.0 1223.4 837.0 1223.5 840.0 1223.5 843.0 1223.6 846.0 1223.6 849.0 1223.7 852.0 1223.8 855.0 1223.8 858.0 1223.9 861.0 1223.9 864.0 1224.0 867.0 1224.1 870.0 1224.1 873.0 1224.2 876.0 1224.3 879.0 1224.3 882.0 1224.4 885.0 1224.5 888.0 1224.5 891.0 1224.6 894.0 1224.7 897.0 1224.7 900.0 1224.8 903.0 1224.9 906.0 1224.9 909.0 1225.0 912.0 1225.0 915.0 1225.1 918.0 1225.2 921.0 1225.2 924.0 1225.3 927.0 1225.3 930.0 1225.4 933.0 1225.4 936.0 1225.5 939.0 1225.5 942.0 1225.5 945.0 1225.6 948.0 1225.6 951.0 1225.7 954.0 1225.7 957.0 1225.7 960.0 1225.7 963.0 1225.8 966.0 1225.8 969.0 1225.8 972.0 1225.8 975.0 1225.8 978.0 1225.8 981.0 1225.8 984.0 1225.8 987.0 1225.8 990.0 1225.8 993.0 1225.8 996.0 1225.7 999.0 1225.7 1002.0 1225.7 1005.0 1225.6 1008.0 1225.6 1008.8 1225.6" fill="none" stroke="#ab8120" stroke-width="2.2" stroke-linejoin="round" stroke-linecap="butt" />
</g>
<path d="M1008.4 1226.6 V1366.2" stroke="#ab8120" stroke-width="1" stroke-opacity="0.35"/>
<path d="M666.6 1195.06 L668.9 1196.9" stroke="#fff" stroke-width="4"/>
<rect x="548.3" y="1138.4" width="450.2" height="36.2" rx="3.5" fill="#fff" fill-opacity="0.8" stroke="#cccccc" stroke-width="1.4"/>
<path d="M554.9 1155 H599.5" stroke="#6e006f" stroke-width="2.2"/>
<path d="M721.6 1155 H766.2" stroke="#007306" stroke-width="2.2"/>
<path d="M876.4 1155 H919.4" stroke="#ab8120" stroke-width="2.2"/>
<text x="614.2" y="1161.6" font-size="21.2" textLength="87.1" lengthAdjust="spacingAndGlyphs">Γ = 0.25</text>
<text x="780.9" y="1161.6" font-size="21.2" textLength="75" lengthAdjust="spacingAndGlyphs">Γ = 0.5</text>
<text x="936.1" y="1161.6" font-size="21.2" textLength="54.3" lengthAdjust="spacingAndGlyphs">Γ = 1</text>
<rect x="431.9" y="803.3" width="577.8" height="562.9" fill="none" stroke="#000" stroke-width="2"/>
<path d="M431.9 1366.2 V1373.2 M528.2 1366.2 V1373.2 M624.5 1366.2 V1373.2 M720.8 1366.2 V1373.2 M817.1 1366.2 V1373.2 M913.4 1366.2 V1373.2 M1009.7 1366.2 V1373.2 M424.9 803.3 H431.9 M424.9 873.66 H431.9 M424.9 944.02 H431.9 M424.9 1014.39 H431.9 M424.9 1084.75 H431.9 M424.9 1155.11 H431.9 M424.9 1225.47 H431.9 M424.9 1295.84 H431.9 M424.9 1366.2 H431.9" stroke="#000" stroke-width="2" fill="none"/>
<text x="416.1" y="812.5" font-size="22.3" text-anchor="end" textLength="31.4" lengthAdjust="spacingAndGlyphs">3.0</text>
<text x="416.1" y="882.86" font-size="22.3" text-anchor="end" textLength="31.4" lengthAdjust="spacingAndGlyphs">2.5</text>
<text x="416.1" y="953.23" font-size="22.3" text-anchor="end" textLength="31.4" lengthAdjust="spacingAndGlyphs">2.0</text>
<text x="416.1" y="1023.59" font-size="22.3" text-anchor="end" textLength="31.4" lengthAdjust="spacingAndGlyphs">1.5</text>
<text x="416.1" y="1093.95" font-size="22.3" text-anchor="end" textLength="31.4" lengthAdjust="spacingAndGlyphs">1.0</text>
<text x="416.1" y="1164.31" font-size="22.3" text-anchor="end" textLength="31.4" lengthAdjust="spacingAndGlyphs">0.5</text>
<text x="416.1" y="1234.67" font-size="22.3" text-anchor="end" textLength="31.4" lengthAdjust="spacingAndGlyphs">0.0</text>
<text x="417.1" y="1305.04" font-size="22.3" text-anchor="end" textLength="49.8" lengthAdjust="spacingAndGlyphs">−0.5</text>
<text x="417.1" y="1375.4" font-size="22.3" text-anchor="end" textLength="49.8" lengthAdjust="spacingAndGlyphs">−1.0</text>
<text x="431.9" y="1397.7" font-size="22.3" text-anchor="middle" textLength="14" lengthAdjust="spacingAndGlyphs">0</text>
<text x="528.2" y="1397.7" font-size="22.3" text-anchor="middle" textLength="40" lengthAdjust="spacingAndGlyphs">500</text>
<text x="624.5" y="1397.7" font-size="22.3" text-anchor="middle" textLength="53.3" lengthAdjust="spacingAndGlyphs">1000</text>
<text x="720.8" y="1397.7" font-size="22.3" text-anchor="middle" textLength="53.3" lengthAdjust="spacingAndGlyphs">1500</text>
<text x="817.1" y="1397.7" font-size="22.3" text-anchor="middle" textLength="53.3" lengthAdjust="spacingAndGlyphs">2000</text>
<text x="913.4" y="1397.7" font-size="22.3" text-anchor="middle" textLength="53.3" lengthAdjust="spacingAndGlyphs">2500</text>
<text x="1009.7" y="1397.7" font-size="22.3" text-anchor="middle" textLength="53.3" lengthAdjust="spacingAndGlyphs">3000</text>
<text x="721.4" y="1430.1" font-size="26.6" text-anchor="middle" textLength="135.5" lengthAdjust="spacingAndGlyphs">Time (a.u.)</text>
<text x="0" y="0" font-size="26" text-anchor="middle" textLength="167.5" lengthAdjust="spacingAndGlyphs" transform="translate(352.7 1086.65) rotate(-90)">Current (a.u.)</text>
<rect x="1194.8" y="979.6" width="1.1" height="1.2" fill="#3a3a3a"/>
<text x="1.6" y="32.5" font-size="43.7" textLength="31.4" lengthAdjust="spacingAndGlyphs" font-weight="bold">A</text>
<text x="740.2" y="32.3" font-size="42.6" textLength="29.6" lengthAdjust="spacingAndGlyphs" font-weight="bold">B</text>
<text x="326.2" y="793.4" font-size="43.7" font-weight="bold">C</text>
</svg></body></html>
